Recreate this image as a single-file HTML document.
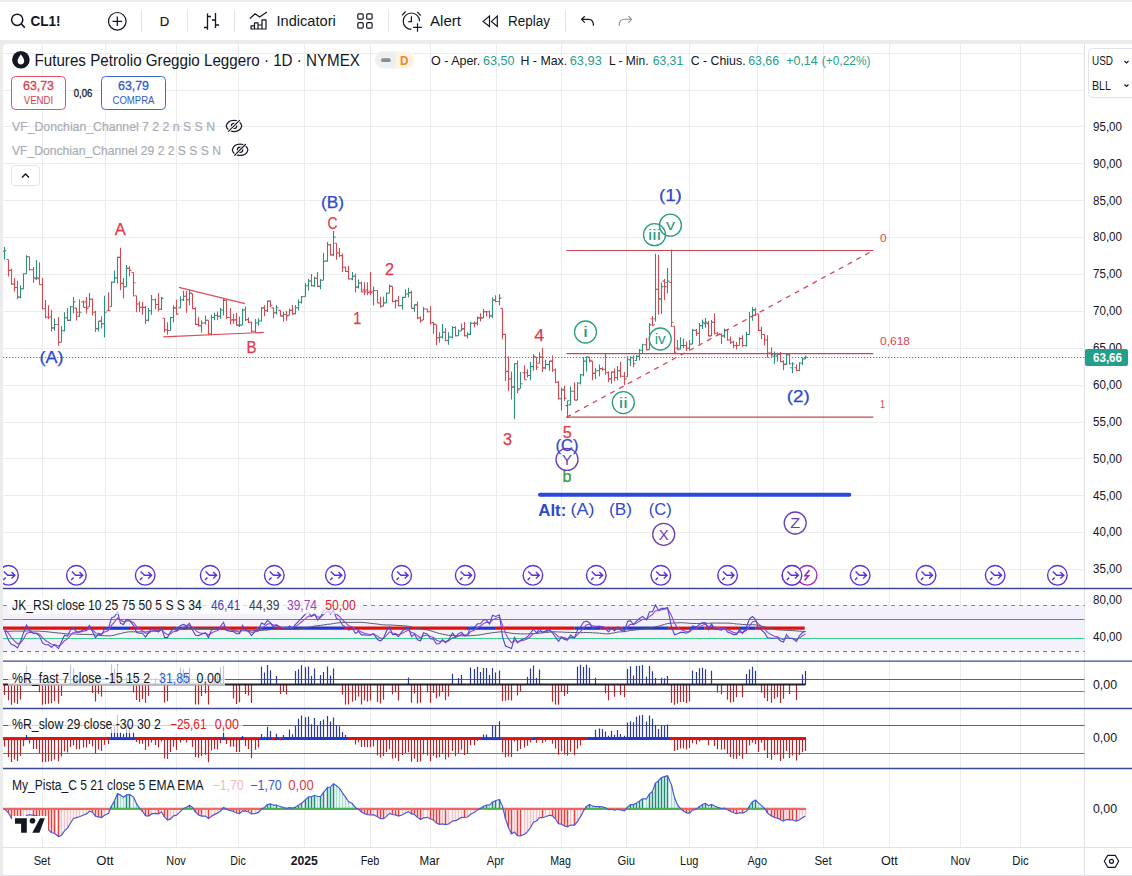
<!DOCTYPE html>
<html><head><meta charset="utf-8"><style>
html,body{margin:0;padding:0;background:#fff;}
body{width:1132px;height:876px;overflow:hidden;}
svg{display:block;font-family:"Liberation Sans",sans-serif;}
</style></head><body>
<svg width="1132" height="876" viewBox="0 0 1132 876">
<rect x="0" y="0" width="1132" height="876" fill="#ebebeb"/>
<rect x="0" y="2" width="1132" height="38" fill="#ffffff"/>
<path d="M3 48 Q3 44 7 44 L1132 44 L1132 876 L3 876 Z" fill="#ffffff"/>
<path d="M42.5 44V847.5 M105.5 44V847.5 M176.5 44V847.5 M238.5 44V847.5 M304.5 44V847.5 M370.5 44V847.5 M430.5 44V847.5 M496.5 44V847.5 M561.5 44V847.5 M626.5 44V847.5 M689.5 44V847.5 M757.5 44V847.5 M823.5 44V847.5 M889.5 44V847.5 M960.5 44V847.5 M1020.5 44V847.5 M3 569.5H1084.5 M3 532.5H1084.5 M3 495.5H1084.5 M3 458.5H1084.5 M3 422.5H1084.5 M3 385.5H1084.5 M3 348.5H1084.5 M3 311.5H1084.5 M3 274.5H1084.5 M3 237.5H1084.5 M3 200.5H1084.5 M3 163.5H1084.5 M3 126.5H1084.5 M3 90.5H1084.5 M3 53.5H1084.5" stroke="#ececec" stroke-width="1" fill="none"/>
<path d="M1084.5 44V876 M3 847.5H1132 M3 875.5H1132" stroke="#dfe1e6" stroke-width="1" fill="none"/>
<path d="M4.5 247.1V259.5M2.5 251.2H4.5M4.5 250.8H6.5M20.5 285.5V298.5M18.5 297.1H20.5M20.5 288.9H22.5M23.5 273.2V288.9M21.5 288.9H23.5M23.5 273.8H25.5M26.5 255.3V273.8M24.5 273.8H26.5M26.5 256.7H28.5M36.5 260.1V280M34.5 278.6H36.5M36.5 277.9H38.5M54.5 318.4V330.7M52.5 327.9H54.5M54.5 324.5H56.5M61.5 325.9V342.3M59.5 342.3H61.5M61.5 330.7H63.5M64.5 312.2V331.4M62.5 330.7H64.5M64.5 317.7H66.5M70.5 306V321.1M68.5 320.4H70.5M70.5 306.7H72.5M73.5 297.1V313.6M71.5 306.7H73.5M73.5 301.9H75.5M79.5 299.2V317M77.5 316.3H79.5M79.5 312.2H81.5M89.5 293V306.7M87.5 306.7H89.5M89.5 299.2H91.5M98.5 321.1V331.4M96.5 328.6H98.5M98.5 321.1H100.5M104.5 295.8V337.5M102.5 323.8H104.5M104.5 312.2H106.5M111.5 281.4V306.7M109.5 306.7H111.5M111.5 282.1H113.5M114.5 270.4V282.7M112.5 282.1H114.5M114.5 277.9H116.5M117.5 256.7V283.4M115.5 277.9H117.5M117.5 257.4H119.5M126.5 264.9V286.8M124.5 286.8H126.5M126.5 268.4H128.5M148.5 307.9V321.6M146.5 320.3H148.5M148.5 310.7H150.5M151.5 294.9V314.8M149.5 310.7H151.5M151.5 299.7H153.5M161.5 297V310M159.5 309.3H161.5M161.5 298.4H163.5M170.5 316.8V330.5M168.5 330.5H170.5M170.5 317.5H172.5M173.5 305.2V322.3M171.5 317.5H173.5M173.5 307.9H175.5M180.5 296.3V307.9M178.5 307.9H180.5M180.5 299.7H182.5M183.5 290.8V301.1M181.5 299.7H183.5M183.5 296.3H185.5M189.5 289.5V305.2M187.5 299.7H189.5M189.5 292.9H191.5M201.5 320.3V332.6M199.5 325.8H201.5M201.5 323H203.5M205.5 315.5V324.4M203.5 323H205.5M205.5 320.3H207.5M211.5 314.8V335.3M209.5 334H211.5M211.5 317.5H213.5M214.5 312.7V320.3M212.5 317.5H214.5M214.5 315.5H216.5M220.5 307.9V318.9M218.5 316.2H220.5M220.5 310H222.5M223.5 299V315.5M221.5 310H223.5M223.5 300.4H225.5M239.5 316.8V327.1M237.5 325.1H239.5M239.5 325.1H241.5M242.5 308.6V325.1M240.5 325.1H242.5M242.5 310H244.5M255.5 318.9V331.9M253.5 331.2H255.5M255.5 323H257.5M258.5 318.2V325.8M256.5 323H258.5M258.5 321H260.5M261.5 307.3V321.6M259.5 321H261.5M261.5 307.9H263.5M267.5 300.4V312.1M265.5 310.7H267.5M267.5 301.1H269.5M276.5 304.9V314.5M274.5 312.7H276.5M276.5 307.7H278.5M283.5 311.8V321.4M281.5 315.9H283.5M283.5 314.5H285.5M289.5 308.4V315.2M287.5 315.2H289.5M289.5 310.4H291.5M295.5 304.9V314.5M293.5 313.8H295.5M295.5 307.7H297.5M298.5 299.5V310.4M296.5 307.7H298.5M298.5 302.2H300.5M301.5 296V303.6M299.5 302.2H301.5M301.5 296.7H303.5M305.5 283V296.7M303.5 296.7H305.5M305.5 285.8H307.5M308.5 278.9V290.5M306.5 285.8H308.5M308.5 281H310.5M314.5 276.8V287.1M312.5 285.8H314.5M314.5 278.2H316.5M320.5 278.9V289.2M318.5 286.4H320.5M320.5 280.3H322.5M323.5 252.9V280.3M321.5 280.3H323.5M323.5 261.1H325.5M327.5 241.9V261.8M325.5 261.1H327.5M327.5 244.7H329.5M333.5 231V256.3M331.5 254.9H333.5M333.5 237.1H335.5M352.5 272.1V280.3M350.5 278.9H352.5M352.5 276.2H354.5M358.5 279.6V288.5M356.5 287.1H358.5M358.5 283H360.5M373.5 286.4V305.6M371.5 291.2H373.5M373.5 290.5H375.5M383.5 296.7V306.3M381.5 306.3H383.5M383.5 302.9H385.5M386.5 292.6V302.9M384.5 302.9H386.5M386.5 293.3H388.5M389.5 284.4V293.3M387.5 293.3H389.5M389.5 286.4H391.5M395.5 299.5V308.4M393.5 301.5H395.5M395.5 300.8H397.5M402.5 296.7V309.7M400.5 305.6H402.5M402.5 297.4H404.5M405.5 289.2V297.4M403.5 297.4H405.5M405.5 294H407.5M408.5 287.8V297.4M406.5 294H408.5M408.5 292.6H410.5M414.5 304.2V311.8M412.5 308.4H414.5M414.5 304.9H416.5M423.5 307V320M421.5 320H423.5M423.5 309H425.5M439.5 332.3V342.6M437.5 337.8H439.5M439.5 337.1H441.5M442.5 324.1V338.5M440.5 337.1H442.5M442.5 332.3H444.5M448.5 332.3V344.7M446.5 340.5H448.5M448.5 337.1H450.5M452.5 326.2V338.5M450.5 337.1H452.5M452.5 327.5H454.5M458.5 329.6V335.8M456.5 335.8H458.5M458.5 331H460.5M461.5 323.4V331M459.5 331H461.5M461.5 328.9H463.5M467.5 332.3V338.5M465.5 335.8H467.5M467.5 334.4H469.5M470.5 322.1V335.1M468.5 334.4H470.5M470.5 323.4H472.5M477.5 316.6V325.5M475.5 323.4H477.5M477.5 317.9H479.5M483.5 309V317.9M481.5 317.9H483.5M483.5 311.8H485.5M492.5 297.4V317.9M490.5 315.9H492.5M492.5 300.1H494.5M499.5 294V305.6M497.5 301.5H499.5M499.5 298.1H501.5M514.5 363.2V419.3M512.5 387.1H514.5M514.5 363.8H516.5M520.5 372.1V388.5M518.5 388.5H520.5M520.5 383.7H522.5M530.5 361.8V380.3M528.5 375.5H530.5M530.5 366.6H532.5M533.5 354.2V370.7M531.5 366.6H533.5M533.5 356.3H535.5M539.5 352.2V363.2M537.5 363.2H539.5M539.5 357H541.5M545.5 359.7V369.3M543.5 367.9H545.5M545.5 364.5H547.5M549.5 360.4V370.7M547.5 364.5H549.5M549.5 361.1H551.5M561.5 387.8V410.4M559.5 398.8H561.5M561.5 389.9H563.5M567.5 400.8V417.9M565.5 405.6H567.5M567.5 400.8H569.5M570.5 386.4V404.9M568.5 404.9H570.5M570.5 391.2H572.5M577.5 382.3V400.1M575.5 400.1H577.5M577.5 383H579.5M580.5 374.1V384.4M578.5 383H580.5M580.5 374.8H582.5M583.5 357V376.2M581.5 374.8H583.5M583.5 361.1H585.5M586.5 356.3V371.4M584.5 361.1H586.5M586.5 357H588.5M595.5 367.9V378.9M593.5 373.4H595.5M595.5 370.7H597.5M599.5 364.5V376.2M597.5 370.7H599.5M599.5 368.6H601.5M611.5 371.4V383.7M609.5 378.9H611.5M611.5 372.1H613.5M617.5 365.9V380.3M615.5 377.5H617.5M617.5 370.7H619.5M627.5 356.3V376.8M625.5 376.8H627.5M627.5 359.7H629.5M630.5 356.3V365.9M628.5 359.7H630.5M630.5 357.7H632.5M636.5 355.1V360.5M634.5 360.5H636.5M636.5 356.4H638.5M639.5 348.9V360.5M637.5 356.4H639.5M639.5 350.3H641.5M642.5 344.1V353M640.5 350.3H642.5M642.5 344.8H644.5M649.5 322.9V349.6M647.5 349.6H649.5M649.5 324.9H651.5M655.5 253.7V321.5M653.5 318.8H655.5M655.5 289.3H657.5M661.5 282.5V314M659.5 298.9H661.5M661.5 286.6H663.5M667.5 268.1V293.4M665.5 282.5H667.5M667.5 281.1H669.5M680.5 337.3V349.6M678.5 348.2H680.5M680.5 345.5H682.5M683.5 338.6V348.2M681.5 345.5H683.5M683.5 345.5H685.5M689.5 340V349.6M687.5 348.2H689.5M689.5 344.1H691.5M692.5 329V344.1M690.5 344.1H692.5M692.5 330.4H694.5M699.5 322.9V344.1M697.5 333.2H699.5M699.5 325.6H701.5M702.5 319.5V329M700.5 325.6H702.5M702.5 322.2H704.5M705.5 318.1V327.7M703.5 323.6H705.5M705.5 322.2H707.5M711.5 320.1V335.9M709.5 335.9H711.5M711.5 322.2H713.5M724.5 328.4V337.9M722.5 335.9H724.5M724.5 330.4H726.5M739.5 337.3V345.5M737.5 345.5H739.5M739.5 338.6H741.5M746.5 331.8V346.8M744.5 345.5H746.5M746.5 334.5H748.5M749.5 311.9V334.5M747.5 334.5H749.5M749.5 316.7H751.5M752.5 307.1V320.8M750.5 316.7H752.5M752.5 309.9H754.5M774.5 351.4V363.7M772.5 356.2H774.5M774.5 354.8H776.5M777.5 352.7V361.6M775.5 356.2H777.5M777.5 354.1H779.5M786.5 354.1V365.1M784.5 364.4H786.5M786.5 354.8H788.5M792.5 362.3V373.3M790.5 367.8H792.5M792.5 363.7H794.5M799.5 362.3V371.2M797.5 370.5H799.5M799.5 363H801.5M802.5 357.5V365.1M800.5 363H802.5M802.5 358.9H804.5M805.5 355.5V358.9M803.5 358.9H805.5M805.5 357.3H807.5" stroke="#2a917f" stroke-width="1.1" fill="none"/>
<path d="M8.5 259.5V276.6M6.5 259.5H8.5M8.5 270.4H10.5M11.5 268.4V284.8M9.5 270.4H11.5M11.5 284.1H13.5M14.5 277.9V291.6M12.5 284.1H14.5M14.5 287.5H16.5M17.5 280.7V299.2M15.5 287.5H17.5M17.5 297.1H19.5M29.5 256.7V270.4M27.5 256.7H29.5M29.5 269.7H31.5M33.5 267V282.7M31.5 269.7H33.5M33.5 277.9H35.5M39.5 262.2V284.8M37.5 278.6H39.5M39.5 284.8H41.5M42.5 277.9V309.5M40.5 284.8H42.5M42.5 308.8H44.5M45.5 299.9V318.4M43.5 308.8H45.5M45.5 317H47.5M48.5 305.3V319M46.5 317H48.5M48.5 317H50.5M51.5 310.1V331.4M49.5 317H51.5M51.5 327.9H53.5M58.5 317V345.8M56.5 324.5H58.5M58.5 342.3H60.5M67.5 308.1V321.1M65.5 317.7H67.5M67.5 320.4H69.5M76.5 308.1V320.4M74.5 308.1H76.5M76.5 312.2H78.5M83.5 300.5V307.4M81.5 301.9H83.5M83.5 307.4H85.5M86.5 297.1V313.6M84.5 301.9H86.5M86.5 308.1H88.5M92.5 298.5V315.6M90.5 299.2H92.5M92.5 312.2H94.5M95.5 310.8V332.1M93.5 312.2H95.5M95.5 328.6H97.5M101.5 316.3V328.6M99.5 321.1H101.5M101.5 323.8H103.5M108.5 292.3V310.8M106.5 310.8H108.5M108.5 310.8H110.5M120.5 247.8V290.3M118.5 257.4H120.5M120.5 283.4H122.5M123.5 277.9V298.5M121.5 283.4H123.5M123.5 286.8H125.5M129.5 266.3V276.6M127.5 268.4H129.5M129.5 270.4H131.5M133.5 272.5V296.4M131.5 272.5H133.5M133.5 282.7H135.5M136.5 295.8V312.2M134.5 295.8H136.5M136.5 304H138.5M139.5 301.2V312.2M137.5 304H139.5M139.5 307.4H141.5M142.5 301.8V314.8M140.5 307.3H142.5M142.5 307.4H144.5M145.5 305.9V323.7M143.5 307.3H145.5M145.5 320.3H147.5M155.5 298.4V309.3M153.5 299.7H155.5M155.5 304.5H157.5M158.5 292.9V311.4M156.5 304.5H158.5M158.5 309.3H160.5M164.5 318.2V332.6M162.5 318.2H164.5M164.5 329.9H166.5M167.5 322.3V334.7M165.5 329.9H167.5M167.5 330.5H169.5M176.5 299.7V314.8M174.5 307.9H176.5M176.5 314.1H178.5M186.5 290.8V312.7M184.5 296.3H186.5M186.5 299.7H188.5M192.5 293.6V309.3M190.5 293.6H192.5M192.5 308.6H194.5M195.5 307.3V325.1M193.5 308.6H195.5M195.5 324.4H197.5M198.5 316.8V326.4M196.5 324.4H198.5M198.5 325.8H200.5M208.5 320.3V334.7M206.5 320.3H208.5M208.5 334H210.5M217.5 311.4V320.3M215.5 315.5H217.5M217.5 316.2H219.5M226.5 299.7V318.9M224.5 300.4H226.5M226.5 317.5H228.5M230.5 307.9V324.4M228.5 317.5H230.5M230.5 320.3H232.5M233.5 314.1V323.7M231.5 319.6H233.5M233.5 320.3H235.5M236.5 312.7V325.8M234.5 319.6H236.5M236.5 325.1H238.5M245.5 306.6V321M243.5 310H245.5M245.5 319.6H247.5M248.5 317.5V323M246.5 319.6H248.5M248.5 322.3H250.5M251.5 321.6V332.6M249.5 322.3H251.5M251.5 331.2H253.5M264.5 305.2V316.2M262.5 307.9H264.5M264.5 310.7H266.5M270.5 300.4V307.3M268.5 301.1H270.5M270.5 305.2H272.5M273.5 307.9V318.2M271.5 307.9H273.5M273.5 312.7H275.5M280.5 310.4V316.6M278.5 310.4H280.5M280.5 315.9H282.5M286.5 311.1V320.7M284.5 314.5H286.5M286.5 315.9H288.5M292.5 304.9V315.2M290.5 310.4H292.5M292.5 313.8H294.5M311.5 274.1V286.4M309.5 281H311.5M311.5 285.8H313.5M317.5 272.1V287.1M315.5 278.2H317.5M317.5 286.4H319.5M330.5 244V255.6M328.5 244.7H330.5M330.5 254.9H332.5M336.5 243.3V259.7M334.5 243.3H336.5M336.5 252.9H338.5M339.5 248.1V257M337.5 252.9H339.5M339.5 255.6H341.5M342.5 253.6V272.1M340.5 255.6H342.5M342.5 267.3H344.5M345.5 266.6V272.1M343.5 267.3H345.5M345.5 271.4H347.5M348.5 265.9V279.6M346.5 271.4H348.5M348.5 278.9H350.5M355.5 273.4V292.6M353.5 276.2H355.5M355.5 287.1H357.5M361.5 281.6V292.6M359.5 283H361.5M361.5 291.9H363.5M364.5 282.3V295.3M362.5 289.9H364.5M364.5 291.9H366.5M367.5 282.3V295.3M365.5 289.9H367.5M367.5 292.6H369.5M370.5 272.1V295.3M368.5 291.2H370.5M370.5 292.6H372.5M377.5 290.5V303.6M375.5 290.5H377.5M377.5 302.9H379.5M380.5 296.7V307.7M378.5 302.9H380.5M380.5 306.3H382.5M392.5 286.4V302.2M390.5 286.4H392.5M392.5 301.5H394.5M398.5 296V306.3M396.5 300.8H398.5M398.5 305.6H400.5M411.5 290.5V308.4M409.5 292.6H411.5M411.5 308.4H413.5M417.5 301.5V319.3M415.5 304.9H417.5M417.5 317.9H419.5M420.5 316.6V322.7M418.5 317.9H420.5M420.5 320.7H422.5M427.5 309V312.5M425.5 309H427.5M427.5 311.8H429.5M430.5 306.3V324.8M428.5 311.8H430.5M430.5 322.7H432.5M433.5 322.1V333.7M431.5 322.7H433.5M433.5 324.1H435.5M436.5 324.8V345.3M434.5 324.8H436.5M436.5 337.8H438.5M445.5 328.2V341.2M443.5 332.3H445.5M445.5 340.5H447.5M455.5 326.2V336.4M453.5 327.5H455.5M455.5 335.8H457.5M464.5 322.1V336.4M462.5 328.9H464.5M464.5 335.8H466.5M474.5 321.4V327.5M472.5 323.4H474.5M474.5 323.4H476.5M480.5 313.2V321.4M478.5 317.9H480.5M480.5 317.9H482.5M486.5 311.1V316.6M484.5 311.8H486.5M486.5 311.8H488.5M489.5 310.4V318.6M487.5 311.8H489.5M489.5 315.9H491.5M495.5 295.3V302.2M493.5 300.1H495.5M495.5 301.5H497.5M502.5 308.4V339.2M500.5 308.4H502.5M502.5 334.4H504.5M505.5 333.7V381M503.5 334.4H505.5M505.5 371.4H507.5M508.5 356.3V391.2M506.5 371.4H508.5M508.5 378.9H510.5M511.5 371.4V399.5M509.5 378.9H511.5M511.5 387.1H513.5M517.5 360.4V393.3M515.5 363.8H517.5M517.5 389.9H519.5M524.5 365.2V379.6M522.5 372.7H524.5M524.5 379.6H526.5M527.5 369.3V377.5M525.5 372.7H527.5M527.5 375.5H529.5M536.5 357V370M534.5 357H536.5M536.5 367.3H538.5M542.5 348.1V372.1M540.5 357H542.5M542.5 367.9H544.5M552.5 355.6V372.1M550.5 361.1H552.5M552.5 370H554.5M555.5 368.6V383M553.5 370H555.5M555.5 382.3H557.5M558.5 381V399.5M556.5 382.3H558.5M558.5 398.8H560.5M564.5 385.8V400.8M562.5 389.9H564.5M564.5 398.1H566.5M574.5 382.3V400.1M572.5 391.2H574.5M574.5 400.1H576.5M589.5 357V362.5M587.5 357H589.5M589.5 360.4H591.5M592.5 361.1V380.3M590.5 361.1H592.5M592.5 373.4H594.5M602.5 367.3V370.7M600.5 368.6H602.5M602.5 369.3H604.5M605.5 353.6V374.8M603.5 369.3H605.5M605.5 372.7H607.5M608.5 371.4V382.3M606.5 372.7H608.5M608.5 378.9H610.5M614.5 368.6V381M612.5 372.1H614.5M614.5 377.5H616.5M620.5 361.8V377.5M618.5 370.7H620.5M620.5 376.2H622.5M624.5 372.1V385.1M622.5 376.2H624.5M624.5 378.9H626.5M633.5 355.6V367.3M631.5 357.7H633.5M633.5 363.8H635.5M646.5 337.9V350.3M644.5 344.8H646.5M646.5 349.6H648.5M652.5 316V326.3M650.5 318.8H652.5M652.5 324.9H654.5M658.5 255.1V314.7M656.5 289.3H658.5M658.5 298.9H660.5M664.5 279V300.3M662.5 281.1H664.5M664.5 286.6H666.5M671.5 249.6V327M669.5 282.5H671.5M671.5 322.2H673.5M674.5 326.3V353.7M672.5 326.3H674.5M674.5 352.3H676.5M677.5 340V349.6M675.5 348.2H677.5M677.5 349.6H679.5M686.5 341.4V351M684.5 345.5H686.5M686.5 348.2H688.5M696.5 329V335.9M694.5 330.4H696.5M696.5 333.2H698.5M708.5 320.8V336.6M706.5 323.6H708.5M708.5 335.9H710.5M714.5 313.3V334.5M712.5 322.2H714.5M714.5 333.2H716.5M717.5 331.8V335.9M715.5 333.2H717.5M717.5 334.5H719.5M721.5 333.2V344.1M719.5 334.5H721.5M721.5 335.9H723.5M727.5 329.7V340.7M725.5 330.4H727.5M727.5 340H729.5M730.5 336.6V344.1M728.5 340H730.5M730.5 342.1H732.5M733.5 340.7V348.2M731.5 342.1H733.5M733.5 345.5H735.5M736.5 342.1V349.6M734.5 345.5H736.5M736.5 345.5H738.5M742.5 335.2V346.8M740.5 338.6H742.5M742.5 345.5H744.5M755.5 307.8V316M753.5 309.9H755.5M755.5 314H757.5M758.5 314V331.1M756.5 314H758.5M758.5 330.4H760.5M761.5 327V339.3M759.5 330.4H761.5M761.5 334.5H763.5M764.5 334.5V345.5M762.5 334.5H764.5M764.5 340H766.5M767.5 335.2V357.8M765.5 340H767.5M767.5 353H769.5M771.5 347.3V356.8M769.5 353H771.5M771.5 354.8H773.5M780.5 352.1V362.3M778.5 354.1H780.5M780.5 361.6H782.5M783.5 360.3V369.9M781.5 361.6H783.5M783.5 364.4H785.5M789.5 354.1V364.4M787.5 354.8H789.5M789.5 363.7H791.5M796.5 364.4V371.2M794.5 367.8H796.5M796.5 370.5H798.5" stroke="#d34a53" stroke-width="1.1" fill="none"/>
<circle cx="17.2" cy="19.8" r="5.6" stroke="#131722" stroke-width="1.5" fill="none"/><path d="M21.2 23.8L24.8 27.6" stroke="#131722" stroke-width="1.6"/>
<text x="30.5" y="26" font-size="14" fill="#131722" text-anchor="start" font-weight="bold" textLength="30" lengthAdjust="spacingAndGlyphs">CL1!</text>
<circle cx="117.3" cy="21.3" r="8.8" stroke="#131722" stroke-width="1.2" fill="none"/><path d="M117.3 16.5V26.1M112.5 21.3H122.1" stroke="#131722" stroke-width="1.3"/>
<path d="M141.5 10V31.5M187.5 10V31.5M234.5 10V31.5M388.5 10V31.5M565.5 10V31.5" stroke="#e0e3eb" stroke-width="1"/>
<text x="164.6" y="26" font-size="13.5" fill="#131722" text-anchor="middle" textLength="9.5" lengthAdjust="spacingAndGlyphs" stroke="#131722" stroke-width="0.2">D</text>
<path d="M207.5 13.5V29.7M207.5 16.5H211M204 27.5H207.5M215.5 13V28M212 20H215.5M215.5 25H219" stroke="#131722" stroke-width="1.3" fill="none"/>
<path d="M249.9 18.5L255.2 13.8L259.6 16.9L266.9 12M251 29V25.9H254.5V29ZM254.5 29V22.9H258V29ZM258 29V25H262V29ZM262 29V19.8H266V29Z" stroke="#131722" stroke-width="1.2" fill="none" stroke-linejoin="round"/>
<text x="276.5" y="26" font-size="14" fill="#131722" text-anchor="start" textLength="59.3" lengthAdjust="spacingAndGlyphs">Indicatori</text>
<rect x="357.8" y="13.8" width="5.4" height="5.4" rx="1.2" stroke="#131722" stroke-width="1.2" fill="none"/>
<rect x="366.7" y="13.8" width="5.4" height="5.4" rx="1.2" stroke="#131722" stroke-width="1.2" fill="none"/>
<rect x="357.8" y="22.7" width="5.4" height="5.4" rx="1.2" stroke="#131722" stroke-width="1.2" fill="none"/>
<rect x="366.7" y="22.7" width="5.4" height="5.4" rx="1.2" stroke="#131722" stroke-width="1.2" fill="none"/>
<path d="M419.6 21.2A8.2 8.2 0 1 0 411.4 29.4M411.4 16.3V21.6H408.3M402.1 15.4L405.5 11.5M417.2 11.8L420.8 15.6M417.5 23.3V31.7M413.1 27.4H421.8" stroke="#131722" stroke-width="1.2" fill="none"/>
<text x="430" y="26" font-size="14" fill="#131722" text-anchor="start" textLength="31" lengthAdjust="spacingAndGlyphs">Alert</text>
<path d="M489.5 16.1V26.5L483.1 21.4ZM497.3 16.1V26.5L491.4 21.4Z" stroke="#131722" stroke-width="1.2" fill="none" stroke-linejoin="miter"/>
<text x="508" y="26" font-size="14" fill="#131722" text-anchor="start" textLength="42" lengthAdjust="spacingAndGlyphs">Replay</text>
<path d="M593.5 25.8C593.5 21.5 591.5 19.3 588.6 19.3H581.6M584.8 16.2L581.6 19.3L584.8 22.7" stroke="#131722" stroke-width="1.2" fill="none"/>
<path d="M619.2 25.8C619.2 21.5 621.5 19.3 624.4 19.3H631.6M628.4 16.2L631.6 19.3L628.4 22.7" stroke="#8f929b" stroke-width="1.1" fill="none"/>
<circle cx="20.9" cy="59.8" r="8.8" fill="#131722"/><path d="M20.9 54.3C19.5 56.5 17.6 58.8 17.6 61C17.6 63 19.1 64.6 20.9 64.6C22.7 64.6 24.2 63 24.2 61C24.2 58.8 22.3 56.5 20.9 54.3Z" fill="#fff"/>
<text x="34.5" y="65.5" font-size="16" fill="#131722" text-anchor="start" textLength="325.5" lengthAdjust="spacingAndGlyphs">Futures Petrolio Greggio Leggero · 1D · NYMEX</text>
<path d="M383.5 51.5H396V68.5H383.5A8.5 8.5 0 0 1 383.5 51.5Z" fill="#eeeff1"/><path d="M396 51.5H406.3A8.5 8.5 0 0 1 406.3 68.5H396Z" fill="#fff3e6"/>
<rect x="381" y="58.3" width="9.8" height="3.8" rx="1.9" fill="#8a8d96"/>
<text x="404.2" y="65" font-size="13" fill="#ef8a16" text-anchor="middle" font-weight="bold" textLength="8.5" lengthAdjust="spacingAndGlyphs">D</text>
<text x="431.1" y="65.2" font-size="13.5" fill="#131722" text-anchor="start" textLength="49.2" lengthAdjust="spacingAndGlyphs">O - Aper.</text>
<text x="482.9" y="65.2" font-size="13.5" fill="#22a08c" text-anchor="start" textLength="31.5" lengthAdjust="spacingAndGlyphs">63,50</text>
<text x="520.5" y="65.2" font-size="13.5" fill="#131722" text-anchor="start" textLength="46.7" lengthAdjust="spacingAndGlyphs">H - Max.</text>
<text x="569.7" y="65.2" font-size="13.5" fill="#22a08c" text-anchor="start" textLength="32.1" lengthAdjust="spacingAndGlyphs">63,93</text>
<text x="608.9" y="65.2" font-size="13.5" fill="#131722" text-anchor="start" textLength="39.6" lengthAdjust="spacingAndGlyphs">L - Min.</text>
<text x="652.7" y="65.2" font-size="13.5" fill="#22a08c" text-anchor="start" textLength="30.5" lengthAdjust="spacingAndGlyphs">63,31</text>
<text x="690.7" y="65.2" font-size="13.5" fill="#131722" text-anchor="start" textLength="54.9" lengthAdjust="spacingAndGlyphs">C - Chius.</text>
<text x="748.2" y="65.2" font-size="13.5" fill="#22a08c" text-anchor="start" textLength="30.9" lengthAdjust="spacingAndGlyphs">63,66</text>
<text x="786.2" y="65.2" font-size="13.5" fill="#22a08c" text-anchor="start" textLength="31.5" lengthAdjust="spacingAndGlyphs">+0,14</text>
<text x="821.8" y="65.2" font-size="13.5" fill="#22a08c" text-anchor="start" textLength="48.7" lengthAdjust="spacingAndGlyphs">(+0,22%)</text>
<rect x="11.5" y="76.5" width="54" height="33" rx="4" stroke="#e05363" stroke-width="1" fill="#fff"/>
<text x="38.5" y="90.3" font-size="12.5" fill="#d8404f" text-anchor="middle" textLength="31" lengthAdjust="spacingAndGlyphs" stroke="#d8404f" stroke-width="0.3">63,73</text>
<text x="38.5" y="104" font-size="10.5" fill="#d8404f" text-anchor="middle" textLength="29.6" lengthAdjust="spacingAndGlyphs">VENDI</text>
<text x="83" y="97" font-size="11" fill="#131722" text-anchor="middle" textLength="18.5" lengthAdjust="spacingAndGlyphs" stroke="#131722" stroke-width="0.3">0,06</text>
<rect x="101.5" y="76.5" width="64" height="33" rx="4" stroke="#3f6ad8" stroke-width="1" fill="#fff"/>
<text x="133.5" y="90.3" font-size="12.5" fill="#2f5bd3" text-anchor="middle" textLength="31" lengthAdjust="spacingAndGlyphs" stroke="#2f5bd3" stroke-width="0.3">63,79</text>
<text x="133.5" y="104" font-size="10.5" fill="#2f5bd3" text-anchor="middle" textLength="42" lengthAdjust="spacingAndGlyphs">COMPRA</text>
<text x="12" y="131" font-size="13" fill="#a9acb4" text-anchor="start" textLength="203" lengthAdjust="spacingAndGlyphs" stroke="#a9acb4" stroke-width="0.2">VF_Donchian_Channel 7 2 2 n S S N</text>
<text x="12" y="155" font-size="13" fill="#a9acb4" text-anchor="start" textLength="209" lengthAdjust="spacingAndGlyphs" stroke="#a9acb4" stroke-width="0.2">VF_Donchian_Channel 29 2 2 S S S N</text>
<path d="M226.2 125.9C228 118.4 240 118.4 241.8 125.9C240 133.4 228 133.4 226.2 125.9Z" stroke="#131722" stroke-width="1.2" fill="none"/><circle cx="234" cy="125.9" r="2.6" stroke="#131722" stroke-width="1.2" fill="none"/><path d="M228 131.9L240 119.9" stroke="#fff" stroke-width="3"/><path d="M228.2 131.7L239.8 120.1" stroke="#131722" stroke-width="1.2"/>
<path d="M232.3 149.8C234.1 142.3 246.1 142.3 247.9 149.8C246.1 157.3 234.1 157.3 232.3 149.8Z" stroke="#131722" stroke-width="1.2" fill="none"/><circle cx="240.1" cy="149.8" r="2.6" stroke="#131722" stroke-width="1.2" fill="none"/><path d="M234.1 155.8L246.1 143.8" stroke="#fff" stroke-width="3"/><path d="M234.3 155.6L245.9 144" stroke="#131722" stroke-width="1.2"/>
<rect x="11.5" y="165.5" width="28" height="20" rx="3" stroke="#e0e3eb" stroke-width="1" fill="#fff"/><path d="M22 177.5L25.5 174L29 177.5" stroke="#131722" stroke-width="1.4" fill="none"/>
<rect x="1088.5" y="48.5" width="50" height="49" rx="4" stroke="#e0e3eb" stroke-width="1" fill="#fff"/>
<text x="1092" y="65" font-size="12.5" fill="#131722" text-anchor="start" textLength="21" lengthAdjust="spacingAndGlyphs">USD</text>
<text x="1092" y="89.5" font-size="12.5" fill="#131722" text-anchor="start" textLength="19" lengthAdjust="spacingAndGlyphs">BLL</text>
<path d="M1124.5 61L1126.5 63L1128.5 61M1124.5 84.5L1126.5 86.5L1128.5 84.5" stroke="#131722" stroke-width="1.1" fill="none"/>
<text x="1093" y="573.3" font-size="12.5" fill="#131722" text-anchor="start" textLength="29" lengthAdjust="spacingAndGlyphs">35,00</text>
<text x="1093" y="536.4" font-size="12.5" fill="#131722" text-anchor="start" textLength="29" lengthAdjust="spacingAndGlyphs">40,00</text>
<text x="1093" y="499.6" font-size="12.5" fill="#131722" text-anchor="start" textLength="29" lengthAdjust="spacingAndGlyphs">45,00</text>
<text x="1093" y="462.7" font-size="12.5" fill="#131722" text-anchor="start" textLength="29" lengthAdjust="spacingAndGlyphs">50,00</text>
<text x="1093" y="425.8" font-size="12.5" fill="#131722" text-anchor="start" textLength="29" lengthAdjust="spacingAndGlyphs">55,00</text>
<text x="1093" y="388.9" font-size="12.5" fill="#131722" text-anchor="start" textLength="29" lengthAdjust="spacingAndGlyphs">60,00</text>
<text x="1093" y="352.1" font-size="12.5" fill="#131722" text-anchor="start" textLength="29" lengthAdjust="spacingAndGlyphs">65,00</text>
<text x="1093" y="315.2" font-size="12.5" fill="#131722" text-anchor="start" textLength="29" lengthAdjust="spacingAndGlyphs">70,00</text>
<text x="1093" y="278.3" font-size="12.5" fill="#131722" text-anchor="start" textLength="29" lengthAdjust="spacingAndGlyphs">75,00</text>
<text x="1093" y="241.4" font-size="12.5" fill="#131722" text-anchor="start" textLength="29" lengthAdjust="spacingAndGlyphs">80,00</text>
<text x="1093" y="204.6" font-size="12.5" fill="#131722" text-anchor="start" textLength="29" lengthAdjust="spacingAndGlyphs">85,00</text>
<text x="1093" y="167.7" font-size="12.5" fill="#131722" text-anchor="start" textLength="29" lengthAdjust="spacingAndGlyphs">90,00</text>
<text x="1093" y="130.8" font-size="12.5" fill="#131722" text-anchor="start" textLength="29" lengthAdjust="spacingAndGlyphs">95,00</text>
<path d="M3 357.5H1084.5" stroke="#22a08c" stroke-width="1" stroke-dasharray="1.3 1.7" fill="none"/>
<rect x="1085" y="349" width="43" height="17" rx="2" fill="#22a08c"/>
<text x="1093" y="362" font-size="12.5" fill="#ffffff" text-anchor="start" font-weight="bold" textLength="29" lengthAdjust="spacingAndGlyphs">63,66</text>
<text x="51.5" y="362.8" font-size="16" fill="#2f48d0" text-anchor="middle" textLength="24" lengthAdjust="spacingAndGlyphs" stroke="#2f48d0" stroke-width="0.25">(A)</text>
<text x="120.2" y="235.3" font-size="16" fill="#e03a4a" text-anchor="middle" textLength="11" lengthAdjust="spacingAndGlyphs" stroke="#e03a4a" stroke-width="0.25">A</text>
<text x="251.4" y="353" font-size="16" fill="#e03a4a" text-anchor="middle" textLength="10" lengthAdjust="spacingAndGlyphs" stroke="#e03a4a" stroke-width="0.25">B</text>
<text x="332.5" y="208.1" font-size="16" fill="#2f48d0" text-anchor="middle" textLength="23" lengthAdjust="spacingAndGlyphs" stroke="#2f48d0" stroke-width="0.25">(B)</text>
<text x="332.5" y="229.3" font-size="16" fill="#e03a4a" text-anchor="middle" textLength="10" lengthAdjust="spacingAndGlyphs" stroke="#e03a4a" stroke-width="0.25">C</text>
<text x="357.3" y="324.3" font-size="16" fill="#e03a4a" text-anchor="middle" textLength="8" lengthAdjust="spacingAndGlyphs" stroke="#e03a4a" stroke-width="0.25">1</text>
<text x="389.4" y="274.8" font-size="16" fill="#e03a4a" text-anchor="middle" textLength="9" lengthAdjust="spacingAndGlyphs" stroke="#e03a4a" stroke-width="0.25">2</text>
<text x="507.4" y="444.8" font-size="16" fill="#e03a4a" text-anchor="middle" textLength="9" lengthAdjust="spacingAndGlyphs" stroke="#e03a4a" stroke-width="0.25">3</text>
<text x="539.3" y="340.7" font-size="16" fill="#e03a4a" text-anchor="middle" textLength="10" lengthAdjust="spacingAndGlyphs" stroke="#e03a4a" stroke-width="0.25">4</text>
<text x="567.3" y="438.3" font-size="16" fill="#e03a4a" text-anchor="middle" textLength="9" lengthAdjust="spacingAndGlyphs" stroke="#e03a4a" stroke-width="0.25">5</text>
<text x="567" y="451" font-size="16" fill="#2f48d0" text-anchor="middle" textLength="23" lengthAdjust="spacingAndGlyphs" stroke="#2f48d0" stroke-width="0.25">(C)</text>
<text x="567" y="481.8" font-size="16" fill="#3a9a3a" text-anchor="middle" textLength="9" lengthAdjust="spacingAndGlyphs" stroke="#3a9a3a" stroke-width="0.25">b</text>
<text x="670.4" y="201.1" font-size="16" fill="#2f48d0" text-anchor="middle" textLength="23" lengthAdjust="spacingAndGlyphs" stroke="#2f48d0" stroke-width="0.25">(1)</text>
<text x="798.3" y="402.1" font-size="16" fill="#2f48d0" text-anchor="middle" textLength="23" lengthAdjust="spacingAndGlyphs" stroke="#2f48d0" stroke-width="0.25">(2)</text>
<circle cx="567" cy="459.4" r="11" stroke="#6a3fb5" stroke-width="1.3" fill="none"/>
<text x="567" y="464.6" font-size="15" fill="#6a3fb5" text-anchor="middle" textLength="10" lengthAdjust="spacingAndGlyphs">Y</text>
<circle cx="670.4" cy="225.2" r="11" stroke="#2a9d80" stroke-width="1.3" fill="none"/>
<text x="670.4" y="230.4" font-size="15" fill="#2a9d80" text-anchor="middle" textLength="9" lengthAdjust="spacingAndGlyphs">v</text>
<circle cx="654.5" cy="234.7" r="11" stroke="#2a9d80" stroke-width="1.3" fill="none"/>
<text x="654.5" y="239.9" font-size="15" fill="#2a9d80" text-anchor="middle" textLength="13" lengthAdjust="spacingAndGlyphs">iii</text>
<circle cx="585.5" cy="332" r="11" stroke="#2a9d80" stroke-width="1.3" fill="none"/>
<text x="585.5" y="337.2" font-size="15" fill="#2a9d80" text-anchor="middle" textLength="5" lengthAdjust="spacingAndGlyphs">i</text>
<circle cx="660.2" cy="339" r="11" stroke="#2a9d80" stroke-width="1.3" fill="none"/>
<text x="660.2" y="344.2" font-size="15" fill="#2a9d80" text-anchor="middle" textLength="11" lengthAdjust="spacingAndGlyphs">iv</text>
<circle cx="623.3" cy="402.6" r="11" stroke="#2a9d80" stroke-width="1.3" fill="none"/>
<text x="623.3" y="407.8" font-size="15" fill="#2a9d80" text-anchor="middle" textLength="9" lengthAdjust="spacingAndGlyphs">ii</text>
<circle cx="663.7" cy="534.3" r="11" stroke="#6a3fb5" stroke-width="1.3" fill="none"/>
<text x="663.7" y="539.5" font-size="15" fill="#6a3fb5" text-anchor="middle" textLength="10" lengthAdjust="spacingAndGlyphs">X</text>
<circle cx="795.2" cy="523" r="11" stroke="#6a3fb5" stroke-width="1.3" fill="none"/>
<text x="795.2" y="528.2" font-size="15" fill="#6a3fb5" text-anchor="middle" textLength="10" lengthAdjust="spacingAndGlyphs">Z</text>
<path d="M179 287.4L245 303.7M163.3 336.8L263.7 332.4" stroke="#e04a58" stroke-width="1.2" fill="none"/>
<path d="M566.4 250.5H873.3M566.4 353.7H873.3M566.4 417.2H873.3" stroke="#c9464f" stroke-width="1.2" fill="none"/>
<path d="M566.4 417.2L873.3 250.5" stroke="#d24a56" stroke-width="1.3" stroke-dasharray="5 5" fill="none"/>
<text x="880" y="242.3" font-size="11.5" fill="#d9444f" text-anchor="start" textLength="6.5" lengthAdjust="spacingAndGlyphs">0</text>
<text x="880" y="345.3" font-size="11.5" fill="#d9444f" text-anchor="start" textLength="30" lengthAdjust="spacingAndGlyphs">0,618</text>
<text x="880" y="408.3" font-size="11.5" fill="#d9444f" text-anchor="start" textLength="5" lengthAdjust="spacingAndGlyphs">1</text>
<path d="M540 494.7H849.3" stroke="#2b49d6" stroke-width="4" stroke-linecap="round"/>
<text x="538.3" y="515.5" font-size="16" fill="#2f48d0" text-anchor="start" font-weight="bold" textLength="28" lengthAdjust="spacingAndGlyphs">Alt:</text>
<text x="582.5" y="515" font-size="16" fill="#2f48d0" text-anchor="middle" textLength="24" lengthAdjust="spacingAndGlyphs">(A)</text>
<text x="620.6" y="515" font-size="16" fill="#2f48d0" text-anchor="middle" textLength="23" lengthAdjust="spacingAndGlyphs">(B)</text>
<text x="660.2" y="515" font-size="16" fill="#2f48d0" text-anchor="middle" textLength="23" lengthAdjust="spacingAndGlyphs">(C)</text>
<circle cx="8.5" cy="575.3" r="9.8" stroke="#5a2fe0" stroke-width="1.4" fill="#fff"/><path d="M3.9 571.6L7.7 575.3H14.9M11.5 572L14.9 575.3L11.5 578.6M3.3 580L5.7 577.6" stroke="#5a2fe0" stroke-width="1.4" fill="none"/>
<circle cx="76.4" cy="575.3" r="9.8" stroke="#5a2fe0" stroke-width="1.4" fill="#fff"/><path d="M71.8 571.6L75.6 575.3H82.8M79.4 572L82.8 575.3L79.4 578.6M71.2 580L73.6 577.6" stroke="#5a2fe0" stroke-width="1.4" fill="none"/>
<circle cx="145.2" cy="575.3" r="9.8" stroke="#5a2fe0" stroke-width="1.4" fill="#fff"/><path d="M140.6 571.6L144.4 575.3H151.6M148.2 572L151.6 575.3L148.2 578.6M140 580L142.4 577.6" stroke="#5a2fe0" stroke-width="1.4" fill="none"/>
<circle cx="210.2" cy="575.3" r="9.8" stroke="#5a2fe0" stroke-width="1.4" fill="#fff"/><path d="M205.6 571.6L209.4 575.3H216.6M213.2 572L216.6 575.3L213.2 578.6M205 580L207.4 577.6" stroke="#5a2fe0" stroke-width="1.4" fill="none"/>
<circle cx="274.3" cy="575.3" r="9.8" stroke="#5a2fe0" stroke-width="1.4" fill="#fff"/><path d="M269.7 571.6L273.5 575.3H280.7M277.3 572L280.7 575.3L277.3 578.6M269.1 580L271.5 577.6" stroke="#5a2fe0" stroke-width="1.4" fill="none"/>
<circle cx="335.4" cy="575.3" r="9.8" stroke="#5a2fe0" stroke-width="1.4" fill="#fff"/><path d="M330.8 571.6L334.6 575.3H341.8M338.4 572L341.8 575.3L338.4 578.6M330.2 580L332.6 577.6" stroke="#5a2fe0" stroke-width="1.4" fill="none"/>
<circle cx="401.7" cy="575.3" r="9.8" stroke="#5a2fe0" stroke-width="1.4" fill="#fff"/><path d="M397.1 571.6L400.9 575.3H408.1M404.7 572L408.1 575.3L404.7 578.6M396.5 580L398.9 577.6" stroke="#5a2fe0" stroke-width="1.4" fill="none"/>
<circle cx="465.2" cy="575.3" r="9.8" stroke="#5a2fe0" stroke-width="1.4" fill="#fff"/><path d="M460.6 571.6L464.4 575.3H471.6M468.2 572L471.6 575.3L468.2 578.6M460 580L462.4 577.6" stroke="#5a2fe0" stroke-width="1.4" fill="none"/>
<circle cx="532.9" cy="575.3" r="9.8" stroke="#5a2fe0" stroke-width="1.4" fill="#fff"/><path d="M528.3 571.6L532.1 575.3H539.3M535.9 572L539.3 575.3L535.9 578.6M527.7 580L530.1 577.6" stroke="#5a2fe0" stroke-width="1.4" fill="none"/>
<circle cx="596.3" cy="575.3" r="9.8" stroke="#5a2fe0" stroke-width="1.4" fill="#fff"/><path d="M591.7 571.6L595.5 575.3H602.7M599.3 572L602.7 575.3L599.3 578.6M591.1 580L593.5 577.6" stroke="#5a2fe0" stroke-width="1.4" fill="none"/>
<circle cx="660.8" cy="575.3" r="9.8" stroke="#5a2fe0" stroke-width="1.4" fill="#fff"/><path d="M656.2 571.6L660 575.3H667.2M663.8 572L667.2 575.3L663.8 578.6M655.6 580L658 577.6" stroke="#5a2fe0" stroke-width="1.4" fill="none"/>
<circle cx="727.6" cy="575.3" r="9.8" stroke="#5a2fe0" stroke-width="1.4" fill="#fff"/><path d="M723 571.6L726.8 575.3H734M730.6 572L734 575.3L730.6 578.6M722.4 580L724.8 577.6" stroke="#5a2fe0" stroke-width="1.4" fill="none"/>
<circle cx="792" cy="575.3" r="9.8" stroke="#5a2fe0" stroke-width="1.4" fill="#fff"/><path d="M787.4 571.6L791.2 575.3H798.4M795 572L798.4 575.3L795 578.6M786.8 580L789.2 577.6" stroke="#5a2fe0" stroke-width="1.4" fill="none"/>
<circle cx="860.2" cy="575.3" r="9.8" stroke="#5a2fe0" stroke-width="1.4" fill="#fff"/><path d="M855.6 571.6L859.4 575.3H866.6M863.2 572L866.6 575.3L863.2 578.6M855 580L857.4 577.6" stroke="#5a2fe0" stroke-width="1.4" fill="none"/>
<circle cx="926.1" cy="575.3" r="9.8" stroke="#5a2fe0" stroke-width="1.4" fill="#fff"/><path d="M921.5 571.6L925.3 575.3H932.5M929.1 572L932.5 575.3L929.1 578.6M920.9 580L923.3 577.6" stroke="#5a2fe0" stroke-width="1.4" fill="none"/>
<circle cx="995.2" cy="575.3" r="9.8" stroke="#5a2fe0" stroke-width="1.4" fill="#fff"/><path d="M990.6 571.6L994.4 575.3H1001.6M998.2 572L1001.6 575.3L998.2 578.6M990 580L992.4 577.6" stroke="#5a2fe0" stroke-width="1.4" fill="none"/>
<circle cx="1057.4" cy="575.3" r="9.8" stroke="#5a2fe0" stroke-width="1.4" fill="#fff"/><path d="M1052.8 571.6L1056.6 575.3H1063.8M1060.4 572L1063.8 575.3L1060.4 578.6M1052.2 580L1054.6 577.6" stroke="#5a2fe0" stroke-width="1.4" fill="none"/>
<circle cx="807.2" cy="575.3" r="9.8" stroke="#9c2bb0" stroke-width="1.4" fill="#fff"/><path d="M809.5 570L805 575.8H808.5L804.5 580.5" stroke="#9c2bb0" stroke-width="1.6" fill="none"/>
<circle cx="792" cy="575.3" r="9.8" stroke="#5a2fe0" stroke-width="1.4" fill="#fff"/><path d="M787.4 571.6L791.2 575.3H798.4M795 572L798.4 575.3L795 578.6M786.8 580L789.2 577.6" stroke="#5a2fe0" stroke-width="1.4" fill="none"/>
<path d="M3 588.5H1132M3 661.2H1132M3 708.5H1132M3 768.5H1132" stroke="#3b4a8f" stroke-width="1.3" fill="none"/>
<rect x="3" y="605" width="1081.5" height="46.3" fill="#f4f1fb"/>
<path d="M3 605.5H1084.5" stroke="#e06a6a" stroke-width="1" stroke-dasharray="4 4"/>
<path d="M3 651.5H1084.5" stroke="#43a047" stroke-width="1" stroke-dasharray="4 4"/>
<path d="M3 619.5H1084.5" stroke="#cc44dd" stroke-width="1"/>
<path d="M3 638.5H1084.5" stroke="#3ecf8e" stroke-width="1"/>
<path d="M3 628.2H105" stroke="#e01010" stroke-width="3.2"/>
<path d="M105 628.2H130" stroke="#2039c8" stroke-width="3.2"/>
<path d="M130 628.2H176.5" stroke="#e01010" stroke-width="3.2"/>
<path d="M176.5 628.2H188.4" stroke="#2039c8" stroke-width="3.2"/>
<path d="M188.4 628.2H257.6" stroke="#e01010" stroke-width="3.2"/>
<path d="M257.6 628.2H273" stroke="#2039c8" stroke-width="3.2"/>
<path d="M273 628.2H284" stroke="#e01010" stroke-width="3.2"/>
<path d="M284 628.2H344" stroke="#2039c8" stroke-width="3.2"/>
<path d="M344 628.2H467" stroke="#e01010" stroke-width="3.2"/>
<path d="M467 628.2H495" stroke="#2039c8" stroke-width="3.2"/>
<path d="M495 628.2H574.6" stroke="#e01010" stroke-width="3.2"/>
<path d="M574.6 628.2H600.8" stroke="#2039c8" stroke-width="3.2"/>
<path d="M600.8 628.2H622.3" stroke="#e01010" stroke-width="3.2"/>
<path d="M622.3 628.2H668.8" stroke="#2039c8" stroke-width="3.2"/>
<path d="M668.8 628.2H689" stroke="#e01010" stroke-width="3.2"/>
<path d="M689 628.2H704.6" stroke="#2039c8" stroke-width="3.2"/>
<path d="M704.6 628.2H740" stroke="#e01010" stroke-width="3.2"/>
<path d="M740 628.2H755.8" stroke="#2039c8" stroke-width="3.2"/>
<path d="M755.8 628.2H804.7" stroke="#e01010" stroke-width="3.2"/>
<path d="M4.5 631.5L8.5 631.4L11.5 631.2L14.5 631.1L17.5 631.1L20.5 631.1L23.5 631.1L26.5 631L29.5 631L33.5 631.1L36.5 631.1L39.5 631.2L42.5 631.4L45.5 631.6L48.5 631.9L51.5 632.3L54.5 632.6L58.5 633L61.5 633.3L64.5 633.6L67.5 633.9L70.5 634L73.5 633.9L76.5 634.1L79.5 634.3L83.5 634.4L86.5 634.4L89.5 634.4L92.5 634.6L95.5 635L98.5 635.4L101.5 635.6L104.5 635.7L108.5 635.9L111.5 635.7L114.5 635.1L117.5 634.2L120.5 633.5L123.5 632.8L126.5 632.2L129.5 631.8L133.5 631.8L136.5 631.8L139.5 631.8L142.5 631.8L145.5 631.9L148.5 631.6L151.5 631.1L155.5 630.7L158.5 630.2L161.5 629.7L164.5 629.4L167.5 629.3L170.5 629.2L173.5 628.9L176.5 629L180.5 628.9L183.5 628.7L186.5 628.5L189.5 628.3L192.5 628.3L195.5 628.6L198.5 628.7L201.5 628.6L205.5 628.6L208.5 628.7L211.5 628.7L214.5 628.7L217.5 629.1L220.5 629.3L223.5 629.6L226.5 629.9L230.5 630.1L233.5 630.4L236.5 630.8L239.5 631.1L242.5 630.8L245.5 630.8L248.5 630.7L251.5 630.7L255.5 630.6L258.5 630.6L261.5 630.4L264.5 630.2L267.5 630L270.5 629.6L273.5 629.3L276.5 629L280.5 629.1L283.5 629L286.5 629.1L289.5 629.2L292.5 629.3L295.5 629.3L298.5 629L301.5 628.5L305.5 627.9L308.5 627.2L311.5 626.8L314.5 626L317.5 625.7L320.5 625.4L323.5 624.9L327.5 624.3L330.5 624.1L333.5 623.5L336.5 623.1L339.5 622.7L342.5 622.5L345.5 622.3L348.5 622.4L352.5 622.4L355.5 622.4L358.5 622.3L361.5 622.4L364.5 622.6L367.5 622.9L370.5 623.3L373.5 623.6L377.5 624.1L380.5 624.5L383.5 624.9L386.5 625L389.5 624.9L392.5 625.1L395.5 625.3L398.5 625.5L402.5 625.7L405.5 626L408.5 626.2L411.5 626.9L414.5 627.6L417.5 628.2L420.5 629L423.5 629.4L427.5 629.9L430.5 630.7L433.5 631.7L436.5 632.6L439.5 633.5L442.5 634.2L445.5 634.8L448.5 635.3L452.5 635.5L455.5 635.7L458.5 635.8L461.5 635.8L464.5 635.9L467.5 635.9L470.5 635.7L474.5 635.4L477.5 635.1L480.5 634.8L483.5 634.2L486.5 633.6L489.5 633.2L492.5 632.7L495.5 632.4L499.5 631.9L502.5 631.9L505.5 632.2L508.5 632.7L511.5 633.3L514.5 633.6L517.5 633.7L520.5 633.9L524.5 633.9L527.5 633.8L530.5 633.8L533.5 633.6L536.5 633.5L539.5 633.2L542.5 632.8L545.5 632.5L549.5 632.2L552.5 631.9L555.5 631.8L558.5 632L561.5 632L564.5 632.2L567.5 632.4L570.5 632.4L574.5 632.5L577.5 632.6L580.5 632.6L583.5 632.6L586.5 632.5L589.5 632.6L592.5 632.8L595.5 632.9L599.5 633.2L602.5 633.5L605.5 633.9L608.5 633.8L611.5 633.3L614.5 632.8L617.5 632.1L620.5 631.9L624.5 631.6L627.5 631L630.5 630.5L633.5 630.2L636.5 629.8L639.5 629.5L642.5 629L646.5 628.7L649.5 628.1L652.5 627.6L655.5 626.8L658.5 626.2L661.5 625.3L664.5 624.4L667.5 623.5L671.5 623.1L674.5 622.9L677.5 622.9L680.5 622.7L683.5 622.8L686.5 623L689.5 623.3L692.5 623.4L696.5 623.5L699.5 623.4L702.5 623.3L705.5 623.2L708.5 623.3L711.5 623.1L714.5 623L717.5 623.1L721.5 623.1L724.5 623.1L727.5 623.1L730.5 623.2L733.5 623.6L736.5 624L739.5 624.1L742.5 624.5L746.5 624.7L749.5 624.8L752.5 624.7L755.5 624.9L758.5 625.4L761.5 626.1L764.5 626.8L767.5 627.7L771.5 628.5L774.5 629.4L777.5 629.8L780.5 630L783.5 630.2L786.5 630.3L789.5 630.5L792.5 630.6L796.5 630.9L799.5 631.2L802.5 631.3L805.5 631.5" stroke="#555a66" stroke-width="1" fill="none"/>
<path d="M4.5 628.6L8.5 633.3L11.5 637.8L14.5 640.9L17.5 643.8L20.5 643L23.5 638.9L26.5 633.4L29.5 632.2L33.5 632.7L36.5 633L39.5 634.2L42.5 637.7L45.5 640.5L48.5 642.2L51.5 644.2L54.5 644.5L58.5 646.1L61.5 644.4L64.5 640.7L67.5 638.9L70.5 635.3L73.5 632.3L76.5 632.2L79.5 632.1L83.5 631.1L86.5 630.6L89.5 628.5L92.5 629.8L95.5 633L98.5 633.3L101.5 634L104.5 632L108.5 630.5L111.5 625.4L114.5 621.9L117.5 617.9L120.5 620.1L123.5 621.8L126.5 620.9L129.5 620.7L133.5 622.5L136.5 626.4L139.5 629.1L142.5 630.7L145.5 633.2L148.5 633.1L151.5 631.3L155.5 630.9L158.5 631.4L161.5 629.8L164.5 632.8L167.5 634.7L170.5 633.7L173.5 631.6L176.5 631.3L180.5 629L183.5 627.1L186.5 626.6L189.5 625.3L192.5 627.2L195.5 630.4L198.5 632.5L201.5 633.2L205.5 633.1L208.5 635L211.5 633L214.5 631.4L217.5 630.6L220.5 628.9L223.5 626.2L226.5 627.9L230.5 629.4L233.5 630.2L236.5 631.6L239.5 632.5L242.5 629.5L245.5 629.8L248.5 630.5L251.5 632.5L255.5 631.8L258.5 630.9L261.5 627.7L264.5 626.5L267.5 624L270.5 623.6L273.5 625.1L276.5 625L280.5 626.8L283.5 627.5L286.5 628.3L289.5 627.4L292.5 627.8L295.5 626.4L298.5 624.4L301.5 622L305.5 618.7L308.5 616.1L311.5 616.2L314.5 615L317.5 617L320.5 617.1L323.5 614.6L327.5 611.7L330.5 612.6L333.5 611.6L336.5 614.3L339.5 616.5L342.5 620L345.5 622.7L348.5 625.7L352.5 626.9L355.5 629.5L358.5 630.2L361.5 632.1L364.5 633.2L367.5 634L370.5 634.5L373.5 634.1L377.5 636.3L380.5 638.2L383.5 638.2L386.5 635.3L389.5 631.9L392.5 633L395.5 633.5L398.5 634.7L402.5 633.2L405.5 631.4L408.5 630L411.5 632.6L414.5 633.2L417.5 635.8L420.5 637.8L423.5 635.8L427.5 635.1L430.5 636.6L433.5 637.6L436.5 640.2L439.5 641.5L442.5 640.8L445.5 641.6L448.5 640.9L452.5 637.8L455.5 637.4L458.5 635.9L461.5 634.4L464.5 635L467.5 634.9L470.5 631.8L474.5 630L477.5 627.5L480.5 626L483.5 623.6L486.5 622.2L489.5 622.9L492.5 619.9L495.5 618.5L499.5 617.1L502.5 624.9L505.5 633.4L508.5 638.9L511.5 642.8L514.5 640.7L517.5 641.5L520.5 641L524.5 640L527.5 638.8L530.5 636.5L533.5 633.6L536.5 633.2L539.5 631.5L542.5 631.9L545.5 631.6L549.5 630.8L552.5 631.7L555.5 633.9L558.5 636.9L561.5 637L564.5 637.9L567.5 638.8L570.5 637.3L574.5 637.6L577.5 634.6L580.5 631.6L583.5 627.9L586.5 625.1L589.5 624.1L592.5 625.9L595.5 626.4L599.5 626.4L602.5 626.6L605.5 627.4L608.5 629.2L611.5 628.7L614.5 629.5L617.5 628.5L620.5 629.1L624.5 630.1L627.5 626.7L630.5 624.3L633.5 624.4L636.5 623.1L639.5 621.3L642.5 619.3L646.5 619.5L649.5 616.4L652.5 614.5L655.5 610.7L658.5 610.7L661.5 609.7L664.5 609.2L667.5 608.5L671.5 615.7L674.5 623.3L677.5 627.5L680.5 629.4L683.5 630.6L686.5 631.7L689.5 631.6L692.5 629.3L696.5 628.5L699.5 626.8L702.5 625.2L705.5 624.3L708.5 626.5L711.5 625.5L714.5 626.9L717.5 627.9L721.5 628.8L724.5 628.2L727.5 629.7L730.5 631L733.5 632.4L736.5 633.3L739.5 631.9L742.5 632.6L746.5 630.3L749.5 625.7L752.5 622L755.5 620.9L758.5 623.8L761.5 626.3L764.5 628.8L767.5 632.4L771.5 634.8L774.5 636.2L777.5 636.8L780.5 638.5L783.5 639.9L786.5 637.8L789.5 638.1L792.5 638.3L796.5 639.6L799.5 637.9L802.5 635.7L805.5 633.9" stroke="#a040d0" stroke-width="1.1" fill="none"/>
<path d="M4.5 630.4L8.5 640.2L11.5 644.6L14.5 645.6L17.5 648L20.5 641.8L23.5 632.7L26.5 625.1L29.5 630.5L33.5 633.5L36.5 633.5L39.5 636L42.5 642.9L45.5 644.8L48.5 644.8L51.5 647.2L54.5 644.9L58.5 648.6L61.5 641.8L64.5 635.2L67.5 636.1L70.5 629.9L73.5 627.9L76.5 631.9L79.5 631.9L83.5 629.6L86.5 629.9L89.5 625.4L92.5 631.7L95.5 637.8L98.5 633.9L101.5 634.9L104.5 629L108.5 628.4L111.5 617.8L114.5 616.7L117.5 611.8L120.5 623.3L123.5 624.5L126.5 619.5L129.5 620.3L133.5 625.3L136.5 632.2L139.5 633.2L142.5 633.2L145.5 637L148.5 632.9L151.5 628.5L155.5 630.3L158.5 632.1L161.5 627.4L164.5 637.4L167.5 637.6L170.5 632.1L173.5 628.6L176.5 630.7L180.5 625.5L183.5 624.4L186.5 625.8L189.5 623.3L192.5 630L195.5 635.2L198.5 635.6L201.5 634.3L205.5 632.9L208.5 637.8L211.5 629.9L214.5 629L217.5 629.3L220.5 626.4L223.5 622.3L226.5 630.4L230.5 631.5L233.5 631.5L236.5 633.7L239.5 633.7L242.5 625.2L245.5 630.2L248.5 631.5L251.5 635.5L255.5 630.7L258.5 629.5L261.5 623L264.5 624.6L267.5 620.3L270.5 622.9L273.5 627.4L276.5 624.8L280.5 629.5L283.5 628.7L286.5 629.5L289.5 626L292.5 628.4L295.5 624.4L298.5 621.3L301.5 618.4L305.5 613.8L308.5 612.1L311.5 616.3L314.5 613.3L317.5 620L320.5 617.3L323.5 610.9L327.5 607.3L330.5 614.1L333.5 610L336.5 618.4L339.5 619.8L342.5 625.1L345.5 626.9L348.5 630.1L352.5 628.8L355.5 633.4L358.5 631.3L361.5 634.9L364.5 634.9L367.5 635.2L370.5 635.2L373.5 633.6L377.5 639.6L380.5 641L383.5 638.1L386.5 631L389.5 626.7L392.5 634.7L395.5 634.2L398.5 636.5L402.5 630.9L405.5 628.8L408.5 627.9L411.5 636.5L414.5 634.1L417.5 639.7L420.5 640.7L423.5 632.8L427.5 634.1L430.5 638.7L433.5 639.3L436.5 644L439.5 643.5L442.5 639.7L445.5 642.7L448.5 640L452.5 633.1L455.5 636.9L458.5 633.6L461.5 632.2L464.5 635.8L467.5 634.7L470.5 627.3L474.5 627.3L477.5 623.8L480.5 623.8L483.5 620L486.5 620L489.5 624L492.5 615.2L495.5 616.5L499.5 614.9L502.5 636.8L505.5 646L508.5 647.3L511.5 648.6L514.5 637.4L517.5 642.8L520.5 640.3L524.5 638.6L527.5 636.8L530.5 633.1L533.5 629.2L536.5 632.8L539.5 628.9L542.5 632.5L545.5 631.1L549.5 629.7L552.5 633L555.5 637.1L558.5 641.4L561.5 637.1L564.5 639.4L567.5 640.1L570.5 635.1L574.5 638L577.5 630.1L580.5 627L583.5 622.3L586.5 621L589.5 622.7L592.5 628.5L595.5 627.3L599.5 626.4L602.5 626.8L605.5 628.6L608.5 631.9L611.5 627.9L614.5 630.9L617.5 626.9L620.5 630L624.5 631.6L627.5 621.5L630.5 620.7L633.5 624.6L636.5 621.1L639.5 618.5L642.5 616.4L646.5 619.9L649.5 611.7L652.5 611.7L655.5 605L658.5 610.5L661.5 608.4L664.5 608.4L667.5 607.4L671.5 626.6L674.5 634.7L677.5 633.8L680.5 632.4L683.5 632.4L686.5 633.2L689.5 631.5L692.5 626L696.5 627.1L699.5 624.2L702.5 622.9L705.5 622.9L708.5 629.8L711.5 623.9L714.5 628.9L717.5 629.5L721.5 630.1L724.5 627.3L727.5 632L730.5 633L733.5 634.6L736.5 634.6L739.5 629.8L742.5 633.6L746.5 626.8L749.5 618.8L752.5 616.5L755.5 619.2L758.5 628.2L761.5 630.1L764.5 632.6L767.5 637.7L771.5 638.3L774.5 638.3L777.5 637.8L780.5 641L783.5 642.1L786.5 634.5L789.5 638.5L792.5 638.5L796.5 641.5L799.5 635.5L802.5 632.5L805.5 631.3" stroke="#4a4ad0" stroke-width="1.1" fill="none"/>
<path d="M3 679.5H1084.5" stroke="#c0394a" stroke-width="1"/>
<path d="M3 691.5H1084.5" stroke="#4f9a4f" stroke-width="1"/>
<path d="M4.5 684.7V694.9M8.5 684.7V700.3M11.5 684.7V704.7M14.5 684.7V702.7M17.5 684.7V704.1M20.5 684.7V699.5M39.5 684.7V692.2M42.5 684.7V704.7M45.5 684.7V704.3M48.5 684.7V703.8M51.5 684.7V703.2M54.5 684.7V701.3M58.5 684.7V703.5M61.5 684.7V696.1M92.5 684.7V692.9M95.5 684.7V701.6M98.5 684.7V693.7M101.5 684.7V696.6M133.5 684.7V692.5M136.5 684.7V700M139.5 684.7V702.1M142.5 684.7V699.1M145.5 684.7V702.8M148.5 684.7V695.9M164.5 684.7V702.4M167.5 684.7V701.2M195.5 684.7V704.4M198.5 684.7V704.4M201.5 684.7V696.1M205.5 684.7V693.5M208.5 684.7V704.6M233.5 684.7V698.6M236.5 684.7V704.1M239.5 684.7V702.2M245.5 684.7V693.9M248.5 684.7V695.6M251.5 684.7V703M280.5 684.7V694.1M283.5 684.7V691.8M286.5 684.7V694.5M342.5 684.7V694.4M345.5 684.7V704.5M348.5 684.7V704.6M352.5 684.7V701.8M355.5 684.7V700.6M358.5 684.7V696.4M361.5 684.7V704.5M364.5 684.7V700.4M367.5 684.7V701.4M370.5 684.7V700.4M377.5 684.7V701.9M380.5 684.7V703.6M383.5 684.7V699.7M392.5 684.7V694.3M395.5 684.7V692.3M398.5 684.7V700.5M411.5 684.7V702.8M414.5 684.7V693.5M417.5 684.7V703.4M420.5 684.7V702.8M427.5 684.7V692.3M430.5 684.7V702.7M433.5 684.7V693M436.5 684.7V698.2M439.5 684.7V696.6M442.5 684.7V691.5M445.5 684.7V700.2M448.5 684.7V696.6M502.5 684.7V700.9M505.5 684.7V700.7M508.5 684.7V700M511.5 684.7V700.4M517.5 684.7V695.6M520.5 684.7V692M552.5 684.7V701.7M555.5 684.7V704.4M558.5 684.7V704.7M561.5 684.7V691.7M564.5 684.7V696M567.5 684.7V693.9M605.5 684.7V693.6M608.5 684.7V700.3M614.5 684.7V696.8M620.5 684.7V695M624.5 684.7V697.2M671.5 684.7V702.7M674.5 684.7V704.7M677.5 684.7V703.6M680.5 684.7V702M683.5 684.7V702M686.5 684.7V703M689.5 684.7V701.4M717.5 684.7V692.4M721.5 684.7V694.3M727.5 684.7V699.7M730.5 684.7V702.5M733.5 684.7V702M736.5 684.7V697.3M742.5 684.7V697.3M761.5 684.7V692.5M764.5 684.7V698.1M767.5 684.7V701.3M771.5 684.7V702.8M774.5 684.7V698.7M777.5 684.7V697.3M780.5 684.7V702.9M783.5 684.7V698.8M789.5 684.7V694M796.5 684.7V699.9" stroke="#b0282e" stroke-width="1.2"/>
<path d="M26.5 684.7V665.5M29.5 684.7V677.7M70.5 684.7V664.9M73.5 684.7V668.2M76.5 684.7V676.9M79.5 684.7V677.9M83.5 684.7V676.5M89.5 684.7V673.2M111.5 684.7V664.7M114.5 684.7V668.8M117.5 684.7V664.5M126.5 684.7V677.6M155.5 684.7V677.9M161.5 684.7V671.5M180.5 684.7V667.9M183.5 684.7V669.3M186.5 684.7V672.5M189.5 684.7V667.6M214.5 684.7V676.2M217.5 684.7V672.4M220.5 684.7V667.3M223.5 684.7V665.7M261.5 684.7V666.4M264.5 684.7V672.4M267.5 684.7V665.1M270.5 684.7V670.3M276.5 684.7V675.9M295.5 684.7V671M298.5 684.7V669.3M301.5 684.7V665.3M305.5 684.7V667.2M308.5 684.7V666.5M311.5 684.7V675.8M314.5 684.7V668.4M320.5 684.7V674.9M323.5 684.7V671.9M327.5 684.7V666.5M330.5 684.7V675.5M333.5 684.7V668.5M408.5 684.7V677.5M452.5 684.7V673.8M458.5 684.7V677.9M461.5 684.7V674.8M470.5 684.7V667.6M474.5 684.7V669.1M477.5 684.7V666.8M480.5 684.7V672M483.5 684.7V668M486.5 684.7V668M489.5 684.7V675M492.5 684.7V667.9M495.5 684.7V672.6M499.5 684.7V670.4M527.5 684.7V676.7M530.5 684.7V668.5M533.5 684.7V665.5M536.5 684.7V677.9M539.5 684.7V669.6M577.5 684.7V666.5M580.5 684.7V664.8M583.5 684.7V667M586.5 684.7V664.7M589.5 684.7V667.7M595.5 684.7V677.7M627.5 684.7V669.1M630.5 684.7V666.2M633.5 684.7V675.6M636.5 684.7V666.1M639.5 684.7V665.8M642.5 684.7V664.9M646.5 684.7V676.5M649.5 684.7V666.1M652.5 684.7V671.3M655.5 684.7V677.9M661.5 684.7V677.8M664.5 684.7V678.2M667.5 684.7V675.9M692.5 684.7V670.4M696.5 684.7V671.9M699.5 684.7V668.2M702.5 684.7V667.8M705.5 684.7V669.3M711.5 684.7V670.7M746.5 684.7V674.1M749.5 684.7V669.4M752.5 684.7V666.8M755.5 684.7V670.8M802.5 684.7V674.5M805.5 684.7V670.9" stroke="#2a3a9a" stroke-width="1.2"/>
<path d="M3 684.5H805.5" stroke="#1e222d" stroke-width="2"/>
<path d="M3 725.5H1084.5" stroke="#c0394a" stroke-width="1"/>
<path d="M3 753.5H1084.5" stroke="#4f9a4f" stroke-width="1"/>
<path d="M4.5 738.6V746.6M8.5 738.6V756.9M11.5 738.6V762.1M14.5 738.6V759.6M17.5 738.6V761.3M20.5 738.6V756M23.5 738.6V746.2M29.5 738.6V743.5M33.5 738.6V748.9M36.5 738.6V748.9M39.5 738.6V753.3M42.5 738.6V762.2M45.5 738.6V761.9M48.5 738.6V761.6M51.5 738.6V761.1M54.5 738.6V759.5M58.5 738.6V761.2M61.5 738.6V756.6M64.5 738.6V751.4M67.5 738.6V752.5M70.5 738.6V747.1M73.5 738.6V745.2M76.5 738.6V749.3M79.5 738.6V749.3M83.5 738.6V747.4M86.5 738.6V747.6M89.5 738.6V744.1M92.5 738.6V746.3M95.5 738.6V753.5M98.5 738.6V749.5M101.5 738.6V751M104.5 738.6V744.8M108.5 738.6V744.1M136.5 738.6V742.1M139.5 738.6V743.8M142.5 738.6V743.8M145.5 738.6V750.1M148.5 738.6V746.5M151.5 738.6V742.4M155.5 738.6V744.9M158.5 738.6V747.5M161.5 738.6V741.6M164.5 738.6V758.5M167.5 738.6V758.9M170.5 738.6V751.9M173.5 738.6V746.8M176.5 738.6V750.1M180.5 738.6V742.4M183.5 738.6V740.5M186.5 738.6V742.4M189.5 738.6V738.7M192.5 738.6V747.1M195.5 738.6V756.9M198.5 738.6V757.7M201.5 738.6V756.2M205.5 738.6V754.7M208.5 738.6V762.2M211.5 738.6V750.5M214.5 738.6V749.1M217.5 738.6V749.3M220.5 738.6V743.3M226.5 738.6V744M230.5 738.6V746.8M233.5 738.6V746.8M236.5 738.6V751.9M239.5 738.6V751.9M245.5 738.6V746.1M248.5 738.6V749M251.5 738.6V758.3M255.5 738.6V749.7M258.5 738.6V747.6M273.5 738.6V739M280.5 738.6V740.3M348.5 738.6V740M352.5 738.6V738.6M355.5 738.6V744.4M358.5 738.6V742.2M361.5 738.6V747M364.5 738.6V747M367.5 738.6V747.3M370.5 738.6V747.3M373.5 738.6V746.5M377.5 738.6V755.6M380.5 738.6V757.5M383.5 738.6V755.9M386.5 738.6V752.3M389.5 738.6V749.3M392.5 738.6V758.7M395.5 738.6V757.9M398.5 738.6V760.9M402.5 738.6V755.1M405.5 738.6V753M408.5 738.6V752.2M411.5 738.6V761.8M414.5 738.6V758.5M417.5 738.6V761.9M420.5 738.6V761.5M423.5 738.6V754.3M427.5 738.6V755.6M430.5 738.6V761.2M433.5 738.6V755.8M436.5 738.6V758M439.5 738.6V757.2M442.5 738.6V754.1M445.5 738.6V759.5M448.5 738.6V757.2M452.5 738.6V750.9M455.5 738.6V756.3M458.5 738.6V753.2M461.5 738.6V749.7M464.5 738.6V755M467.5 738.6V754M470.5 738.6V745.3M474.5 738.6V745.3M477.5 738.6V741M480.5 738.6V740.3M502.5 738.6V752.4M505.5 738.6V757.3M508.5 738.6V756.5M511.5 738.6V757M514.5 738.6V741.4M517.5 738.6V751.3M520.5 738.6V749M524.5 738.6V747.4M527.5 738.6V745.8M530.5 738.6V742.4M536.5 738.6V742.7M539.5 738.6V738.7M542.5 738.6V742.9M545.5 738.6V741.6M549.5 738.6V740.3M552.5 738.6V743.7M555.5 738.6V748.4M558.5 738.6V754.7M561.5 738.6V751.3M564.5 738.6V754.5M567.5 738.6V755.5M570.5 738.6V751.8M574.5 738.6V755.3M577.5 738.6V748.7M580.5 738.6V745.6M583.5 738.6V740.3M586.5 738.6V738.7M671.5 738.6V740.3M674.5 738.6V751M677.5 738.6V750M680.5 738.6V748.6M683.5 738.6V748.6M686.5 738.6V749.5M689.5 738.6V748.1M692.5 738.6V743.2M696.5 738.6V744.2M699.5 738.6V741.5M702.5 738.6V740.3M705.5 738.6V740.3M708.5 738.6V745.2M711.5 738.6V740.3M714.5 738.6V746.1M717.5 738.6V749.2M721.5 738.6V749.8M724.5 738.6V749.6M727.5 738.6V753.7M730.5 738.6V757.2M733.5 738.6V758.8M736.5 738.6V758.8M739.5 738.6V755.7M742.5 738.6V758.8M746.5 738.6V753.8M749.5 738.6V745.5M752.5 738.6V742.4M755.5 738.6V744.3M758.5 738.6V751.9M761.5 738.6V742.8M764.5 738.6V750.6M767.5 738.6V758.1M771.5 738.6V759.7M774.5 738.6V755M777.5 738.6V754.5M780.5 738.6V760.9M783.5 738.6V758.4M786.5 738.6V751.1M789.5 738.6V757.9M792.5 738.6V755.6M796.5 738.6V760.6M799.5 738.6V755.1M802.5 738.6V752.2M805.5 738.6V751" stroke="#b0282e" stroke-width="1.2"/>
<path d="M26.5 738.6V735.1M111.5 738.6V728.8M114.5 738.6V726.6M117.5 738.6V715M120.5 738.6V732.1M123.5 738.6V733.7M126.5 738.6V724.7M129.5 738.6V725.7M133.5 738.6V731.7M223.5 738.6V726.1M242.5 738.6V736.1M261.5 738.6V733.9M264.5 738.6V736.8M267.5 738.6V726.8M270.5 738.6V731.1M276.5 738.6V733.7M283.5 738.6V735.1M286.5 738.6V736.9M289.5 738.6V729.6M292.5 738.6V734.2M295.5 738.6V726M298.5 738.6V718.8M301.5 738.6V715.5M305.5 738.6V717.3M308.5 738.6V716.4M311.5 738.6V724.2M314.5 738.6V718M317.5 738.6V726M320.5 738.6V721.1M323.5 738.6V719.5M327.5 738.6V716.1M330.5 738.6V721.5M333.5 738.6V717.5M336.5 738.6V725M339.5 738.6V726.2M342.5 738.6V731.9M345.5 738.6V735.1M483.5 738.6V734.6M486.5 738.6V734.6M489.5 738.6V738M492.5 738.6V724.9M495.5 738.6V726M499.5 738.6V721.2M533.5 738.6V738.5M589.5 738.6V737.1M592.5 738.6V736.9M595.5 738.6V729.8M599.5 738.6V728.4M602.5 738.6V728.9M605.5 738.6V731.5M608.5 738.6V735.8M611.5 738.6V731.1M614.5 738.6V734.8M617.5 738.6V730.1M620.5 738.6V733.9M624.5 738.6V735.8M627.5 738.6V722.6M630.5 738.6V721.2M633.5 738.6V722.3M636.5 738.6V716.7M639.5 738.6V715.6M642.5 738.6V715M646.5 738.6V721.6M649.5 738.6V715.6M652.5 738.6V718.8M655.5 738.6V725M658.5 738.6V728.9M661.5 738.6V725.4M664.5 738.6V725.4M667.5 738.6V724.6" stroke="#2a3a9a" stroke-width="1.2"/>
<path d="M3 738.6H25" stroke="#e01010" stroke-width="3"/>
<path d="M25 738.6H28" stroke="#2039c8" stroke-width="3"/>
<path d="M28 738.6H110" stroke="#e01010" stroke-width="3"/>
<path d="M110 738.6H135" stroke="#2039c8" stroke-width="3"/>
<path d="M135 738.6H222" stroke="#e01010" stroke-width="3"/>
<path d="M222 738.6H225" stroke="#2039c8" stroke-width="3"/>
<path d="M225 738.6H241" stroke="#e01010" stroke-width="3"/>
<path d="M241 738.6H244" stroke="#2039c8" stroke-width="3"/>
<path d="M244 738.6H260" stroke="#e01010" stroke-width="3"/>
<path d="M260 738.6H272" stroke="#2039c8" stroke-width="3"/>
<path d="M272 738.6H275" stroke="#e01010" stroke-width="3"/>
<path d="M275 738.6H279" stroke="#2039c8" stroke-width="3"/>
<path d="M279 738.6H282" stroke="#e01010" stroke-width="3"/>
<path d="M282 738.6H347" stroke="#2039c8" stroke-width="3"/>
<path d="M347 738.6H482" stroke="#e01010" stroke-width="3"/>
<path d="M482 738.6H501" stroke="#2039c8" stroke-width="3"/>
<path d="M501 738.6H532" stroke="#e01010" stroke-width="3"/>
<path d="M532 738.6H535" stroke="#2039c8" stroke-width="3"/>
<path d="M535 738.6H588" stroke="#e01010" stroke-width="3"/>
<path d="M588 738.6H670" stroke="#2039c8" stroke-width="3"/>
<path d="M670 738.6H806" stroke="#e01010" stroke-width="3"/>
<path d="M4.5 808.8V808.8M111.5 808.8V806.1M114.5 808.8V800.8M117.5 808.8V793.6M126.5 808.8V794.9M129.5 808.8V794.4M183.5 808.8V808.4M186.5 808.8V807.3M189.5 808.8V805.2M223.5 808.8V807.6M264.5 808.8V807.5M267.5 808.8V804.6M270.5 808.8V803.9M276.5 808.8V805M289.5 808.8V807.7M295.5 808.8V807M298.5 808.8V805.3M301.5 808.8V803.2M305.5 808.8V799.8M308.5 808.8V797M311.5 808.8V796.7M314.5 808.8V795.3M320.5 808.8V796.4M323.5 808.8V792.6M327.5 808.8V787.4M330.5 808.8V787M333.5 808.8V783.7M480.5 808.8V808.4M483.5 808.8V806.2M486.5 808.8V805M492.5 808.8V802.1M495.5 808.8V800.8M499.5 808.8V799.5M586.5 808.8V806.4M589.5 808.8V804.5M599.5 808.8V806.7M627.5 808.8V807.2M630.5 808.8V804.7M633.5 808.8V804.6M636.5 808.8V803.1M639.5 808.8V801.1M642.5 808.8V798.9M649.5 808.8V794M652.5 808.8V791.5M655.5 808.8V783M658.5 808.8V780.7M661.5 808.8V777.5M664.5 808.8V776.6M667.5 808.8V775.8M699.5 808.8V806.6M702.5 808.8V804.5M705.5 808.8V803.4M711.5 808.8V804.4M724.5 808.8V808.1M749.5 808.8V806.1M752.5 808.8V801.7M755.5 808.8V800.1" stroke="#1e8a78" stroke-width="1.6"/>
<path d="M8.5 808.8V812.9M11.5 808.8V818.2M14.5 808.8V821.8M17.5 808.8V825.6M20.5 808.8V825.7M33.5 808.8V815.4M36.5 808.8V815.7M39.5 808.8V817.1M42.5 808.8V822.7M45.5 808.8V827.5M48.5 808.8V829.8M51.5 808.8V832.8M54.5 808.8V833.2M58.5 808.8V836.5M92.5 808.8V812.3M95.5 808.8V816.3M98.5 808.8V816.9M101.5 808.8V817.6M142.5 808.8V811.3M145.5 808.8V815.7M148.5 808.8V816.1M158.5 808.8V813.9M164.5 808.8V817M167.5 808.8V820.1M195.5 808.8V812M198.5 808.8V815.1M201.5 808.8V816.1M208.5 808.8V818.5M226.5 808.8V809.1M230.5 808.8V810.7M233.5 808.8V811.5M236.5 808.8V813M239.5 808.8V813.7M245.5 808.8V811.1M248.5 808.8V811.7M251.5 808.8V813.9M358.5 808.8V809.2M361.5 808.8V812M364.5 808.8V813.6M367.5 808.8V814.6M370.5 808.8V815M377.5 808.8V816.8M380.5 808.8V818.6M383.5 808.8V818.7M392.5 808.8V814.5M395.5 808.8V814.9M398.5 808.8V816M411.5 808.8V813.9M414.5 808.8V814.5M417.5 808.8V817.4M420.5 808.8V819.5M430.5 808.8V819M433.5 808.8V820M436.5 808.8V823.1M439.5 808.8V824.4M445.5 808.8V824.6M464.5 808.8V817.5M505.5 808.8V818.8M508.5 808.8V827.4M511.5 808.8V833.8M517.5 808.8V835.7M520.5 808.8V835.9M542.5 808.8V817.7M552.5 808.8V815.9M555.5 808.8V818.8M558.5 808.8V823.6M561.5 808.8V824.2M564.5 808.8V825.9M567.5 808.8V826.9M574.5 808.8V825.2M608.5 808.8V809.6M614.5 808.8V810.2M620.5 808.8V809.9M624.5 808.8V810.8M683.5 808.8V811M686.5 808.8V812.9M689.5 808.8V813.1M727.5 808.8V809.8M730.5 808.8V811.3M733.5 808.8V812.8M736.5 808.8V813.7M742.5 808.8V813.2M767.5 808.8V813M771.5 808.8V815.9M774.5 808.8V817.5M777.5 808.8V818.1M780.5 808.8V819.7M783.5 808.8V821M789.5 808.8V819.9M792.5 808.8V819.9M796.5 808.8V821" stroke="#e8403f" stroke-width="1.6"/>
<path d="M23.5 808.8V822M26.5 808.8V815.8M29.5 808.8V814.6M61.5 808.8V835.2M64.5 808.8V830.8M67.5 808.8V828.1M70.5 808.8V823M73.5 808.8V818.5M76.5 808.8V817.6M79.5 808.8V816.8M83.5 808.8V815M86.5 808.8V813.9M89.5 808.8V811.3M104.5 808.8V815.3M108.5 808.8V813.4M151.5 808.8V813.9M155.5 808.8V813.3M161.5 808.8V811.8M170.5 808.8V818.9M173.5 808.8V815.8M176.5 808.8V815.1M180.5 808.8V811.4M205.5 808.8V816M211.5 808.8V816.3M214.5 808.8V814.4M217.5 808.8V813.1M220.5 808.8V811M242.5 808.8V810.9M255.5 808.8V813.3M258.5 808.8V812.4M261.5 808.8V809M373.5 808.8V814.6M386.5 808.8V816.4M389.5 808.8V813.4M402.5 808.8V814.7M405.5 808.8V813M408.5 808.8V811.6M423.5 808.8V817.9M427.5 808.8V817.3M442.5 808.8V823.8M448.5 808.8V824M452.5 808.8V821.1M455.5 808.8V820.7M458.5 808.8V819.1M461.5 808.8V817.4M467.5 808.8V817M470.5 808.8V814.2M474.5 808.8V812.3M477.5 808.8V809.9M514.5 808.8V832M524.5 808.8V834.3M527.5 808.8V831.6M530.5 808.8V827.5M533.5 808.8V822.3M536.5 808.8V821M539.5 808.8V817.7M545.5 808.8V816.7M549.5 808.8V815.2M570.5 808.8V825M577.5 808.8V821.3M580.5 808.8V816.7M583.5 808.8V810.9M611.5 808.8V809.3M617.5 808.8V809.3M692.5 808.8V810.1M696.5 808.8V808.9M739.5 808.8V812.6M746.5 808.8V811.2M786.5 808.8V819.3M799.5 808.8V819.7M802.5 808.8V817.7M805.5 808.8V815.9" stroke="#f8c4ca" stroke-width="1.6"/>
<path d="M120.5 808.8V795.1M123.5 808.8V797.2M133.5 808.8V797.1M136.5 808.8V803.6M139.5 808.8V808.4M192.5 808.8V807.4M273.5 808.8V805.2M280.5 808.8V806.7M283.5 808.8V807.5M286.5 808.8V808.4M292.5 808.8V808.1M317.5 808.8V796.5M336.5 808.8V785.8M339.5 808.8V788.3M342.5 808.8V792.9M345.5 808.8V797.1M348.5 808.8V801.5M352.5 808.8V803.8M355.5 808.8V807.7M489.5 808.8V805.2M502.5 808.8V806.6M592.5 808.8V806.2M595.5 808.8V806.7M602.5 808.8V806.9M605.5 808.8V807.8M646.5 808.8V798.9M671.5 808.8V785M674.5 808.8V797.6M677.5 808.8V805M680.5 808.8V808.7M708.5 808.8V805.8M714.5 808.8V806M717.5 808.8V807.4M721.5 808.8V808.5M758.5 808.8V802.9M761.5 808.8V805.6M764.5 808.8V808.5" stroke="#a8dccd" stroke-width="1.6"/>
<path d="M3 808.8H110" stroke="#f06464" stroke-width="2.2"/>
<path d="M110 808.8H141" stroke="#4caf50" stroke-width="2.2"/>
<path d="M141 808.8H182" stroke="#f06464" stroke-width="2.2"/>
<path d="M182 808.8H194" stroke="#4caf50" stroke-width="2.2"/>
<path d="M194 808.8H222" stroke="#f06464" stroke-width="2.2"/>
<path d="M222 808.8H225" stroke="#4caf50" stroke-width="2.2"/>
<path d="M225 808.8H263" stroke="#f06464" stroke-width="2.2"/>
<path d="M263 808.8H357" stroke="#4caf50" stroke-width="2.2"/>
<path d="M357 808.8H479" stroke="#f06464" stroke-width="2.2"/>
<path d="M479 808.8H504" stroke="#4caf50" stroke-width="2.2"/>
<path d="M504 808.8H585" stroke="#f06464" stroke-width="2.2"/>
<path d="M585 808.8H607" stroke="#4caf50" stroke-width="2.2"/>
<path d="M607 808.8H626" stroke="#f06464" stroke-width="2.2"/>
<path d="M626 808.8H679" stroke="#4caf50" stroke-width="2.2"/>
<path d="M679 808.8H698" stroke="#f06464" stroke-width="2.2"/>
<path d="M698 808.8H726" stroke="#4caf50" stroke-width="2.2"/>
<path d="M726 808.8H748" stroke="#f06464" stroke-width="2.2"/>
<path d="M748 808.8H766" stroke="#4caf50" stroke-width="2.2"/>
<path d="M766 808.8H806" stroke="#f06464" stroke-width="2.2"/>
<path d="M4.5 808.8L8.5 812.9L11.5 818.2L14.5 821.8L17.5 825.6L20.5 825.7L23.5 822L26.5 815.8L29.5 814.6L33.5 815.4L36.5 815.7L39.5 817.1L42.5 822.7L45.5 827.5L48.5 829.8L51.5 832.8L54.5 833.2L58.5 836.5L61.5 835.2L64.5 830.8L67.5 828.1L70.5 823L73.5 818.5L76.5 817.6L79.5 816.8L83.5 815L86.5 813.9L89.5 811.3L92.5 812.3L95.5 816.3L98.5 816.9L101.5 817.6L104.5 815.3L108.5 813.4L111.5 806.1L114.5 800.8L117.5 793.6L120.5 795.1L123.5 797.2L126.5 794.9L129.5 794.4L133.5 797.1L136.5 803.6L139.5 808.4L142.5 811.3L145.5 815.7L148.5 816.1L151.5 813.9L155.5 813.3L158.5 813.9L161.5 811.8L164.5 817L167.5 820.1L170.5 818.9L173.5 815.8L176.5 815.1L180.5 811.4L183.5 808.4L186.5 807.3L189.5 805.2L192.5 807.4L195.5 812L198.5 815.1L201.5 816.1L205.5 816L208.5 818.5L211.5 816.3L214.5 814.4L217.5 813.1L220.5 811L223.5 807.6L226.5 809.1L230.5 810.7L233.5 811.5L236.5 813L239.5 813.7L242.5 810.9L245.5 811.1L248.5 811.7L251.5 813.9L255.5 813.3L258.5 812.4L261.5 809L264.5 807.5L267.5 804.6L270.5 803.9L273.5 805.2L276.5 805L280.5 806.7L283.5 807.5L286.5 808.4L289.5 807.7L292.5 808.1L295.5 807L298.5 805.3L301.5 803.2L305.5 799.8L308.5 797L311.5 796.7L314.5 795.3L317.5 796.5L320.5 796.4L323.5 792.6L327.5 787.4L330.5 787L333.5 783.7L336.5 785.8L339.5 788.3L342.5 792.9L345.5 797.1L348.5 801.5L352.5 803.8L355.5 807.7L358.5 809.2L361.5 812L364.5 813.6L367.5 814.6L370.5 815L373.5 814.6L377.5 816.8L380.5 818.6L383.5 818.7L386.5 816.4L389.5 813.4L392.5 814.5L395.5 814.9L398.5 816L402.5 814.7L405.5 813L408.5 811.6L411.5 813.9L414.5 814.5L417.5 817.4L420.5 819.5L423.5 817.9L427.5 817.3L430.5 819L433.5 820L436.5 823.1L439.5 824.4L442.5 823.8L445.5 824.6L448.5 824L452.5 821.1L455.5 820.7L458.5 819.1L461.5 817.4L464.5 817.5L467.5 817L470.5 814.2L474.5 812.3L477.5 809.9L480.5 808.4L483.5 806.2L486.5 805L489.5 805.2L492.5 802.1L495.5 800.8L499.5 799.5L502.5 806.6L505.5 818.8L508.5 827.4L511.5 833.8L514.5 832L517.5 835.7L520.5 835.9L524.5 834.3L527.5 831.6L530.5 827.5L533.5 822.3L536.5 821L539.5 817.7L542.5 817.7L545.5 816.7L549.5 815.2L552.5 815.9L555.5 818.8L558.5 823.6L561.5 824.2L564.5 825.9L567.5 826.9L570.5 825L574.5 825.2L577.5 821.3L580.5 816.7L583.5 810.9L586.5 806.4L589.5 804.5L592.5 806.2L595.5 806.7L599.5 806.7L602.5 806.9L605.5 807.8L608.5 809.6L611.5 809.3L614.5 810.2L617.5 809.3L620.5 809.9L624.5 810.8L627.5 807.2L630.5 804.7L633.5 804.6L636.5 803.1L639.5 801.1L642.5 798.9L646.5 798.9L649.5 794L652.5 791.5L655.5 783L658.5 780.7L661.5 777.5L664.5 776.6L667.5 775.8L671.5 785L674.5 797.6L677.5 805L680.5 808.7L683.5 811L686.5 812.9L689.5 813.1L692.5 810.1L696.5 808.9L699.5 806.6L702.5 804.5L705.5 803.4L708.5 805.8L711.5 804.4L714.5 806L717.5 807.4L721.5 808.5L724.5 808.1L727.5 809.8L730.5 811.3L733.5 812.8L736.5 813.7L739.5 812.6L742.5 813.2L746.5 811.2L749.5 806.1L752.5 801.7L755.5 800.1L758.5 802.9L761.5 805.6L764.5 808.5L767.5 813L771.5 815.9L774.5 817.5L777.5 818.1L780.5 819.7L783.5 821L786.5 819.3L789.5 819.9L792.5 819.9L796.5 821L799.5 819.7L802.5 817.7L805.5 815.9" stroke="#4a5ad8" stroke-width="1.2" fill="none"/>
<rect x="8" y="597" width="352" height="17" fill="#ffffff" fill-opacity="0.7"/>
<text x="12.1" y="609.6" font-size="14" fill="#131722" text-anchor="start" textLength="189.6" lengthAdjust="spacingAndGlyphs">JK_RSI close 10 25 75 50 5 S S 34</text>
<text x="210.9" y="609.6" font-size="14" fill="#3a3fc0" text-anchor="start" textLength="29.4" lengthAdjust="spacingAndGlyphs">46,41</text>
<text x="249" y="609.6" font-size="14" fill="#3d3f47" text-anchor="start" textLength="30.5" lengthAdjust="spacingAndGlyphs">44,39</text>
<text x="287" y="609.6" font-size="14" fill="#9b3fc6" text-anchor="start" textLength="30" lengthAdjust="spacingAndGlyphs">39,74</text>
<text x="325.3" y="609.6" font-size="14" fill="#e0202a" text-anchor="start" textLength="30.4" lengthAdjust="spacingAndGlyphs">50,00</text>
<rect x="8" y="665" width="217" height="20.600000000000023" fill="#ffffff" fill-opacity="0.7"/>
<text x="12.1" y="683" font-size="14" fill="#131722" text-anchor="start" textLength="137.9" lengthAdjust="spacingAndGlyphs">%R_fast 7 close -15 15 2</text>
<text x="159" y="683" font-size="14" fill="#2f5bd3" text-anchor="start" textLength="31" lengthAdjust="spacingAndGlyphs">31,85</text>
<text x="196.6" y="683" font-size="14" fill="#131722" text-anchor="start" textLength="24.2" lengthAdjust="spacingAndGlyphs">0,00</text>
<rect x="8" y="713" width="235" height="20" fill="#ffffff" fill-opacity="0.7"/>
<text x="12.1" y="729.4" font-size="14" fill="#131722" text-anchor="start" textLength="148.7" lengthAdjust="spacingAndGlyphs">%R_slow 29 close -30 30 2</text>
<text x="170" y="729.4" font-size="14" fill="#e0202a" text-anchor="start" textLength="36.5" lengthAdjust="spacingAndGlyphs">−25,61</text>
<text x="214.7" y="729.4" font-size="14" fill="#e0202a" text-anchor="start" textLength="24.3" lengthAdjust="spacingAndGlyphs">0,00</text>
<rect x="8" y="776" width="310" height="17" fill="#ffffff" fill-opacity="0.7"/>
<text x="11.9" y="789.8" font-size="14" fill="#131722" text-anchor="start" textLength="191.6" lengthAdjust="spacingAndGlyphs">My_Pista_C 5 21 close 5 EMA EMA</text>
<text x="212.6" y="789.8" font-size="14" fill="#f5b7bd" text-anchor="start" textLength="31.1" lengthAdjust="spacingAndGlyphs">−1,70</text>
<text x="250.2" y="789.8" font-size="14" fill="#3a5ad0" text-anchor="start" textLength="31.6" lengthAdjust="spacingAndGlyphs">−1,70</text>
<text x="288.3" y="789.8" font-size="14" fill="#e0404a" text-anchor="start" textLength="25.5" lengthAdjust="spacingAndGlyphs">0,00</text>
<text x="1093" y="604.3" font-size="12.5" fill="#131722" text-anchor="start" textLength="29" lengthAdjust="spacingAndGlyphs">80,00</text>
<text x="1093" y="641.3" font-size="12.5" fill="#131722" text-anchor="start" textLength="29" lengthAdjust="spacingAndGlyphs">40,00</text>
<text x="1093" y="688.7" font-size="12.5" fill="#131722" text-anchor="start" textLength="24" lengthAdjust="spacingAndGlyphs">0,00</text>
<text x="1093" y="741.8" font-size="12.5" fill="#131722" text-anchor="start" textLength="24" lengthAdjust="spacingAndGlyphs">0,00</text>
<text x="1093" y="813.2" font-size="12.5" fill="#131722" text-anchor="start" textLength="24" lengthAdjust="spacingAndGlyphs">0,00</text>
<text x="42" y="865" font-size="13" fill="#131722" text-anchor="middle" textLength="16.7" lengthAdjust="spacingAndGlyphs">Set</text>
<text x="105" y="865" font-size="13" fill="#131722" text-anchor="middle" textLength="17.5" lengthAdjust="spacingAndGlyphs">Ott</text>
<text x="176" y="865" font-size="13" fill="#131722" text-anchor="middle" textLength="19.4" lengthAdjust="spacingAndGlyphs">Nov</text>
<text x="238" y="865" font-size="13" fill="#131722" text-anchor="middle" textLength="15.5" lengthAdjust="spacingAndGlyphs">Dic</text>
<text x="304.3" y="865" font-size="13" fill="#131722" text-anchor="middle" font-weight="bold" textLength="27.2" lengthAdjust="spacingAndGlyphs">2025</text>
<text x="370" y="865" font-size="13" fill="#131722" text-anchor="middle" textLength="18.7" lengthAdjust="spacingAndGlyphs">Feb</text>
<text x="429.6" y="865" font-size="13" fill="#131722" text-anchor="middle" textLength="20" lengthAdjust="spacingAndGlyphs">Mar</text>
<text x="495.5" y="865" font-size="13" fill="#131722" text-anchor="middle" textLength="17.5" lengthAdjust="spacingAndGlyphs">Apr</text>
<text x="560.6" y="865" font-size="13" fill="#131722" text-anchor="middle" textLength="20.6" lengthAdjust="spacingAndGlyphs">Mag</text>
<text x="626.3" y="865" font-size="13" fill="#131722" text-anchor="middle" textLength="17.5" lengthAdjust="spacingAndGlyphs">Giu</text>
<text x="689.2" y="865" font-size="13" fill="#131722" text-anchor="middle" textLength="18.3" lengthAdjust="spacingAndGlyphs">Lug</text>
<text x="757.3" y="865" font-size="13" fill="#131722" text-anchor="middle" textLength="19.4" lengthAdjust="spacingAndGlyphs">Ago</text>
<text x="823" y="865" font-size="13" fill="#131722" text-anchor="middle" textLength="17.2" lengthAdjust="spacingAndGlyphs">Set</text>
<text x="889.4" y="865" font-size="13" fill="#131722" text-anchor="middle" textLength="17" lengthAdjust="spacingAndGlyphs">Ott</text>
<text x="960.4" y="865" font-size="13" fill="#131722" text-anchor="middle" textLength="19.6" lengthAdjust="spacingAndGlyphs">Nov</text>
<text x="1020.5" y="865" font-size="13" fill="#131722" text-anchor="middle" textLength="16.4" lengthAdjust="spacingAndGlyphs">Dic</text>
<path d="M1104.3 861.3L1107.8 855.3H1115.2L1118.7 861.3L1115.2 867.3H1107.8Z" stroke="#131722" stroke-width="1.2" fill="none" stroke-linejoin="round"/><circle cx="1111.5" cy="861.3" r="2" stroke="#131722" stroke-width="1.2" fill="none"/>
<rect x="12" y="816" width="36" height="20" fill="#fff"/>
<path d="M15 818.3H26.8V832.8H21.1V823.7H15Z" fill="#131722"/><circle cx="32.5" cy="820.8" r="2.8" fill="#131722"/><path d="M40 818.3H44.8L39.4 832.8H32.3Z" fill="#131722"/>
<rect x="0" y="44" width="3" height="832" fill="#ebebeb"/>
</svg>
</body></html>
